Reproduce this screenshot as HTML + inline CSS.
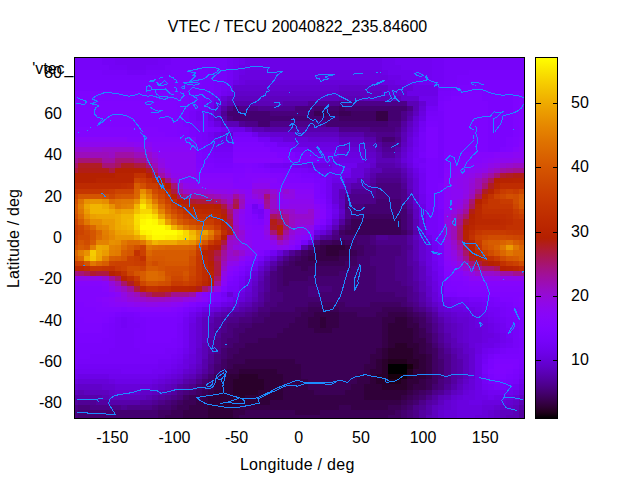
<!DOCTYPE html>
<html><head><meta charset="utf-8"><title>VTEC</title>
<style>html,body{margin:0;padding:0;background:#fff}svg{display:block}text{font-family:"Liberation Sans",sans-serif;font-size:16px;fill:#000}</style>
</head><body>
<svg width="640" height="480" viewBox="0 0 640 480">
<defs><linearGradient id="cb" x1="0" y1="0" x2="0" y2="1"><stop offset="0.0000" stop-color="#ffff00"/><stop offset="0.0179" stop-color="#fdf200"/><stop offset="0.0357" stop-color="#fae500"/><stop offset="0.0536" stop-color="#f8d800"/><stop offset="0.0714" stop-color="#f6cc00"/><stop offset="0.0893" stop-color="#f3c100"/><stop offset="0.1071" stop-color="#f1b600"/><stop offset="0.1250" stop-color="#efab00"/><stop offset="0.1429" stop-color="#eca100"/><stop offset="0.1607" stop-color="#ea9700"/><stop offset="0.1786" stop-color="#e78d00"/><stop offset="0.1964" stop-color="#e58400"/><stop offset="0.2143" stop-color="#e27c00"/><stop offset="0.2321" stop-color="#df7300"/><stop offset="0.2500" stop-color="#dd6c00"/><stop offset="0.2679" stop-color="#da6400"/><stop offset="0.2857" stop-color="#d85d00"/><stop offset="0.3036" stop-color="#d55600"/><stop offset="0.3214" stop-color="#d25000"/><stop offset="0.3393" stop-color="#cf4a00"/><stop offset="0.3571" stop-color="#cc4400"/><stop offset="0.3750" stop-color="#ca3e00"/><stop offset="0.3929" stop-color="#c73900"/><stop offset="0.4107" stop-color="#c43400"/><stop offset="0.4286" stop-color="#c13000"/><stop offset="0.4464" stop-color="#be2b00"/><stop offset="0.4643" stop-color="#bb2700"/><stop offset="0.4821" stop-color="#b82300"/><stop offset="0.5000" stop-color="#b42000"/><stop offset="0.5179" stop-color="#b11d1d"/><stop offset="0.5357" stop-color="#ae1a39"/><stop offset="0.5536" stop-color="#aa1754"/><stop offset="0.5714" stop-color="#a7146f"/><stop offset="0.5893" stop-color="#a31288"/><stop offset="0.6071" stop-color="#a00f9f"/><stop offset="0.6250" stop-color="#9c0db4"/><stop offset="0.6429" stop-color="#980cc7"/><stop offset="0.6607" stop-color="#950ad8"/><stop offset="0.6786" stop-color="#9108e6"/><stop offset="0.6964" stop-color="#8c07f1"/><stop offset="0.7143" stop-color="#8806f9"/><stop offset="0.7321" stop-color="#8405fd"/><stop offset="0.7500" stop-color="#8004ff"/><stop offset="0.7679" stop-color="#7b03fd"/><stop offset="0.7857" stop-color="#7603f9"/><stop offset="0.8036" stop-color="#7102f1"/><stop offset="0.8214" stop-color="#6c01e6"/><stop offset="0.8393" stop-color="#6601d8"/><stop offset="0.8571" stop-color="#6001c7"/><stop offset="0.8750" stop-color="#5a00b4"/><stop offset="0.8929" stop-color="#53009f"/><stop offset="0.9107" stop-color="#4c0088"/><stop offset="0.9286" stop-color="#44006f"/><stop offset="0.9464" stop-color="#3b0054"/><stop offset="0.9643" stop-color="#300039"/><stop offset="0.9821" stop-color="#22001d"/><stop offset="1.0000" stop-color="#000000"/></linearGradient>
<clipPath id="pc"><rect x="74" y="57" width="451" height="362"/></clipPath></defs>
<rect width="640" height="480" fill="#fff"/>
<text x="73.5" y="73.5" text-anchor="end">'vtec_</text>
<text x="297.50" y="31.50" text-anchor="middle">VTEC / TECU 20040822_235.84600</text>
<text x="297.30" y="470.00" text-anchor="middle" letter-spacing="0.3">Longitude / deg</text>
<text transform="translate(18.5,238.5) rotate(-90)" text-anchor="middle" letter-spacing="0.15">Latitude / deg</text>
<text x="62.00" y="408.03" text-anchor="end">-80</text>
<text x="62.00" y="366.77" text-anchor="end">-60</text>
<text x="62.00" y="325.51" text-anchor="end">-40</text>
<text x="62.00" y="284.26" text-anchor="end">-20</text>
<text x="62.00" y="243.00" text-anchor="end">0</text>
<text x="62.00" y="201.74" text-anchor="end">20</text>
<text x="62.00" y="160.49" text-anchor="end">40</text>
<text x="62.00" y="119.23" text-anchor="end">60</text>
<text x="62.00" y="77.97" text-anchor="end">80</text>
<text x="112.29" y="442.50" text-anchor="middle">-150</text>
<text x="174.45" y="442.50" text-anchor="middle">-100</text>
<text x="236.60" y="442.50" text-anchor="middle">-50</text>
<text x="298.76" y="442.50" text-anchor="middle">0</text>
<text x="360.91" y="442.50" text-anchor="middle">50</text>
<text x="423.07" y="442.50" text-anchor="middle">100</text>
<text x="485.22" y="442.50" text-anchor="middle">150</text>
<text x="571.00" y="365.48" text-anchor="start">10</text>
<text x="571.00" y="301.02" text-anchor="start">20</text>
<text x="571.00" y="236.55" text-anchor="start">30</text>
<text x="571.00" y="172.09" text-anchor="start">40</text>
<text x="571.00" y="107.62" text-anchor="start">50</text>
<g shape-rendering="crispEdges"><path fill="#000000" d="M388 364h19v5h-19zM388 369h19v5h-19z"/><path fill="#18000e" d="M407 364h6v5h-6zM388 374h19v5h-19z"/><path fill="#22001d" d="M388 359h19v5h-19zM407 369h6v5h-6zM388 379h13v5h-13z"/><path fill="#2a002b" d="M395 343h12v5h-12zM388 348h25v6h-25zM388 354h25v5h-25zM382 359h6v5h-6zM407 359h12v5h-12zM382 364h6v5h-6zM413 364h6v5h-6zM382 369h6v5h-6zM239 374h19v5h-19zM376 374h12v5h-12zM407 374h6v5h-6zM233 379h31v5h-31zM376 379h12v5h-12zM401 379h6v5h-6zM233 384h31v6h-31zM382 384h25v6h-25zM233 390h25v5h-25zM239 395h6v5h-6z"/><path fill="#300039" d="M326 245h19v5h-19zM326 250h13v6h-13zM320 317h6v6h-6zM395 317h12v6h-12zM320 323h6v5h-6zM388 323h19v5h-19zM388 328h25v5h-25zM388 333h25v5h-25zM388 338h25v5h-25zM388 343h7v5h-7zM407 343h12v5h-12zM382 348h6v6h-6zM413 348h6v6h-6zM382 354h6v5h-6zM413 354h13v5h-13zM376 359h6v5h-6zM419 359h7v5h-7zM376 364h6v5h-6zM419 364h7v5h-7zM239 369h38v5h-38zM370 369h12v5h-12zM413 369h13v5h-13zM227 374h12v5h-12zM258 374h25v5h-25zM370 374h6v5h-6zM413 374h13v5h-13zM221 379h12v5h-12zM264 379h19v5h-19zM370 379h6v5h-6zM407 379h12v5h-12zM221 384h12v6h-12zM264 384h19v6h-19zM364 384h18v6h-18zM407 384h6v6h-6zM214 390h19v5h-19zM258 390h25v5h-25zM364 390h43v5h-43zM208 395h31v5h-31zM245 395h38v5h-38zM364 395h37v5h-37zM208 400h62v5h-62zM208 405h31v5h-31zM208 410h25v5h-25zM208 415h25v4h-25z"/><path fill="#360047" d="M376 111h12v5h-12zM376 116h12v5h-12zM320 245h6v5h-6zM345 245h6v5h-6zM314 250h12v6h-12zM339 250h12v6h-12zM308 256h31v5h-31zM314 312h25v5h-25zM388 312h19v5h-19zM308 317h12v6h-12zM326 317h13v6h-13zM382 317h13v6h-13zM407 317h6v6h-6zM308 323h12v5h-12zM326 323h13v5h-13zM382 323h6v5h-6zM407 323h12v5h-12zM314 328h18v5h-18zM382 328h6v5h-6zM413 328h6v5h-6zM382 333h6v5h-6zM413 333h6v5h-6zM382 338h6v5h-6zM413 338h13v5h-13zM382 343h6v5h-6zM419 343h7v5h-7zM376 348h6v6h-6zM419 348h7v6h-7zM370 354h12v5h-12zM426 354h6v5h-6zM245 359h50v5h-50zM370 359h6v5h-6zM426 359h6v5h-6zM233 364h68v5h-68zM364 364h12v5h-12zM426 364h6v5h-6zM227 369h12v5h-12zM277 369h24v5h-24zM364 369h6v5h-6zM426 369h6v5h-6zM221 374h6v5h-6zM283 374h18v5h-18zM357 374h13v5h-13zM426 374h6v5h-6zM214 379h7v5h-7zM283 379h25v5h-25zM357 379h13v5h-13zM419 379h7v5h-7zM214 384h7v6h-7zM283 384h25v6h-25zM351 384h13v6h-13zM413 384h13v6h-13zM208 390h6v5h-6zM283 390h31v5h-31zM345 390h19v5h-19zM407 390h6v5h-6zM202 395h6v5h-6zM283 395h81v5h-81zM401 395h6v5h-6zM196 400h12v5h-12zM270 400h131v5h-131zM189 405h19v5h-19zM239 405h100v5h-100zM351 405h37v5h-37zM183 410h25v5h-25zM233 410h12v5h-12zM295 410h25v5h-25zM183 415h25v4h-25zM233 415h6v4h-6z"/><path fill="#3b0055" d="M314 111h12v5h-12zM339 111h12v5h-12zM351 219h50v6h-50zM351 225h50v5h-50zM345 230h56v5h-56zM332 240h13v5h-13zM314 245h6v5h-6zM308 250h6v6h-6zM351 250h6v6h-6zM301 256h7v5h-7zM339 256h12v5h-12zM295 261h50v5h-50zM301 266h7v5h-7zM308 307h31v5h-31zM382 307h25v5h-25zM301 312h13v5h-13zM339 312h18v5h-18zM376 312h12v5h-12zM407 312h6v5h-6zM295 317h13v6h-13zM339 317h43v6h-43zM413 317h6v6h-6zM289 323h19v5h-19zM339 323h43v5h-43zM283 328h31v5h-31zM332 328h50v5h-50zM419 328h7v5h-7zM277 333h105v5h-105zM419 333h7v5h-7zM258 338h124v5h-124zM245 343h137v5h-137zM426 343h6v5h-6zM239 348h137v6h-137zM426 348h6v6h-6zM233 354h137v5h-137zM227 359h18v5h-18zM295 359h75v5h-75zM227 364h6v5h-6zM301 364h63v5h-63zM221 369h6v5h-6zM301 369h63v5h-63zM214 374h7v5h-7zM301 374h56v5h-56zM308 379h49v5h-49zM426 379h6v5h-6zM208 384h6v6h-6zM308 384h43v6h-43zM426 384h6v6h-6zM202 390h6v5h-6zM314 390h31v5h-31zM413 390h6v5h-6zM189 395h13v5h-13zM407 395h6v5h-6zM183 400h13v5h-13zM401 400h6v5h-6zM177 405h12v5h-12zM339 405h12v5h-12zM388 405h13v5h-13zM171 410h12v5h-12zM245 410h50v5h-50zM320 410h75v5h-75zM165 415h18v4h-18zM239 415h149v4h-149z"/><path fill="#400062" d="M339 106h6v5h-6zM326 111h13v5h-13zM351 111h25v5h-25zM339 116h37v5h-37zM364 214h37v5h-37zM345 225h6v5h-6zM339 230h6v5h-6zM401 230h6v5h-6zM320 240h12v5h-12zM345 240h12v5h-12zM351 245h13v5h-13zM301 250h7v6h-7zM357 250h7v6h-7zM295 256h6v5h-6zM351 256h6v5h-6zM289 261h6v5h-6zM345 261h12v5h-12zM283 266h18v5h-18zM308 266h43v5h-43zM283 271h56v5h-56zM283 276h25v5h-25zM283 281h6v5h-6zM308 302h37v5h-37zM370 302h31v5h-31zM295 307h13v5h-13zM339 307h43v5h-43zM407 307h6v5h-6zM270 312h31v5h-31zM357 312h19v5h-19zM413 312h6v5h-6zM264 317h31v6h-31zM419 317h7v6h-7zM252 323h37v5h-37zM419 323h7v5h-7zM245 328h38v5h-38zM239 333h38v5h-38zM426 333h6v5h-6zM239 338h19v5h-19zM426 338h6v5h-6zM233 343h12v5h-12zM227 348h12v6h-12zM432 348h6v6h-6zM227 354h6v5h-6zM432 354h6v5h-6zM221 359h6v5h-6zM432 359h6v5h-6zM221 364h6v5h-6zM432 364h6v5h-6zM432 369h6v5h-6zM432 374h6v5h-6zM208 379h6v5h-6zM432 379h6v5h-6zM202 384h6v6h-6zM196 390h6v5h-6zM419 390h7v5h-7zM183 395h6v5h-6zM413 395h6v5h-6zM177 400h6v5h-6zM407 400h6v5h-6zM171 405h6v5h-6zM401 405h6v5h-6zM158 410h13v5h-13zM395 410h6v5h-6zM158 415h7v4h-7zM388 415h13v4h-13z"/><path fill="#440070" d="M233 106h6v5h-6zM314 106h25v5h-25zM345 106h62v5h-62zM227 111h43v5h-43zM308 111h6v5h-6zM388 111h13v5h-13zM233 116h106v5h-106zM388 116h13v5h-13zM258 121h12v6h-12zM326 121h62v6h-62zM382 137h13v5h-13zM376 199h25v5h-25zM364 204h37v5h-37zM351 209h56v5h-56zM351 214h13v5h-13zM401 214h6v5h-6zM345 219h6v6h-6zM401 219h6v6h-6zM401 225h6v5h-6zM339 235h31v5h-31zM357 240h13v5h-13zM364 245h12v5h-12zM364 250h12v6h-12zM289 256h6v5h-6zM357 256h13v5h-13zM283 261h6v5h-6zM357 261h13v5h-13zM277 266h6v5h-6zM351 266h25v5h-25zM277 271h6v5h-6zM339 271h37v5h-37zM277 276h6v5h-6zM308 276h68v5h-68zM277 281h6v5h-6zM289 281h87v5h-87zM277 286h31v6h-31zM332 286h44v6h-44zM283 292h25v5h-25zM320 292h75v5h-75zM283 297h124v5h-124zM277 302h31v5h-31zM345 302h25v5h-25zM401 302h6v5h-6zM270 307h25v5h-25zM258 312h12v5h-12zM419 312h7v5h-7zM252 317h12v6h-12zM239 323h13v5h-13zM426 323h6v5h-6zM233 328h12v5h-12zM426 328h6v5h-6zM233 333h6v5h-6zM227 338h12v5h-12zM227 343h6v5h-6zM432 343h6v5h-6zM221 348h6v6h-6zM221 354h6v5h-6zM438 359h6v5h-6zM214 364h7v5h-7zM438 364h6v5h-6zM214 369h7v5h-7zM438 369h6v5h-6zM208 374h6v5h-6zM438 374h6v5h-6zM202 379h6v5h-6zM196 384h6v6h-6zM432 384h6v6h-6zM189 390h7v5h-7zM426 390h6v5h-6zM419 395h7v5h-7zM171 400h6v5h-6zM413 400h6v5h-6zM158 405h13v5h-13zM407 405h6v5h-6zM78 410h80v5h-80zM401 410h6v5h-6zM78 415h80v4h-80zM401 415h6v4h-6z"/><path fill="#49007c" d="M295 106h19v5h-19zM270 111h38v5h-38zM227 116h6v5h-6zM388 121h13v6h-13zM370 127h25v5h-25zM376 183h25v6h-25zM376 189h25v5h-25zM376 194h25v5h-25zM345 204h19v5h-19zM401 204h6v5h-6zM339 225h6v5h-6zM407 230h6v5h-6zM332 235h7v5h-7zM370 235h6v5h-6zM314 240h6v5h-6zM370 240h6v5h-6zM308 245h6v5h-6zM376 245h25v5h-25zM295 250h6v6h-6zM376 250h25v6h-25zM370 256h25v5h-25zM370 261h25v5h-25zM376 266h19v5h-19zM270 271h7v5h-7zM376 271h19v5h-19zM270 276h7v5h-7zM376 276h19v5h-19zM270 281h7v5h-7zM376 281h25v5h-25zM270 286h7v6h-7zM308 286h24v6h-24zM376 286h31v6h-31zM270 292h13v5h-13zM308 292h12v5h-12zM395 292h12v5h-12zM270 297h13v5h-13zM264 302h13v5h-13zM407 302h6v5h-6zM258 307h12v5h-12zM413 307h6v5h-6zM252 312h6v5h-6zM239 317h13v6h-13zM426 317h6v6h-6zM227 323h12v5h-12zM227 328h6v5h-6zM221 333h12v5h-12zM432 333h6v5h-6zM221 338h6v5h-6zM432 338h6v5h-6zM221 343h6v5h-6zM438 348h6v6h-6zM214 354h7v5h-7zM438 354h6v5h-6zM214 359h7v5h-7zM438 379h6v5h-6zM438 384h6v6h-6zM183 390h6v5h-6zM177 395h6v5h-6zM165 400h6v5h-6zM78 405h12v5h-12zM152 405h6v5h-6zM74 410h4v5h-4zM407 410h6v5h-6zM74 415h4v4h-4zM407 415h6v4h-6z"/><path fill="#4d0089" d="M339 101h68v5h-68zM227 106h6v5h-6zM239 106h19v5h-19zM407 106h6v5h-6zM401 111h6v5h-6zM401 116h6v5h-6zM245 121h13v6h-13zM270 121h56v6h-56zM339 127h31v5h-31zM395 127h6v5h-6zM376 132h19v5h-19zM376 137h6v5h-6zM395 137h6v5h-6zM382 142h13v5h-13zM376 178h25v5h-25zM401 189h6v5h-6zM345 194h31v5h-31zM401 194h6v5h-6zM345 199h31v5h-31zM401 199h6v5h-6zM345 209h6v5h-6zM345 214h6v5h-6zM407 214h6v5h-6zM407 219h6v6h-6zM407 225h6v5h-6zM332 230h7v5h-7zM388 235h19v5h-19zM376 240h31v5h-31zM401 245h6v5h-6zM401 250h6v6h-6zM283 256h6v5h-6zM395 256h12v5h-12zM277 261h6v5h-6zM395 261h12v5h-12zM395 266h12v5h-12zM395 271h12v5h-12zM395 276h12v5h-12zM401 281h6v5h-6zM407 286h6v6h-6zM264 292h6v5h-6zM407 292h6v5h-6zM264 297h6v5h-6zM407 297h6v5h-6zM413 302h6v5h-6zM419 307h7v5h-7zM245 312h7v5h-7zM426 312h6v5h-6zM227 317h12v6h-12zM221 323h6v5h-6zM432 323h6v5h-6zM221 328h6v5h-6zM432 328h6v5h-6zM214 338h7v5h-7zM214 343h7v5h-7zM438 343h6v5h-6zM214 348h7v6h-7zM444 354h7v5h-7zM444 359h7v5h-7zM208 364h6v5h-6zM444 364h7v5h-7zM208 369h6v5h-6zM444 369h7v5h-7zM202 374h6v5h-6zM444 374h7v5h-7zM196 379h6v5h-6zM444 379h7v5h-7zM189 384h7v6h-7zM177 390h6v5h-6zM432 390h6v5h-6zM171 395h6v5h-6zM426 395h6v5h-6zM158 400h7v5h-7zM419 400h7v5h-7zM74 405h4v5h-4zM90 405h31v5h-31zM127 405h25v5h-25zM413 405h6v5h-6zM413 410h6v5h-6zM413 415h6v4h-6z"/><path fill="#500095" d="M308 101h31v5h-31zM258 106h37v5h-37zM221 111h6v5h-6zM239 121h6v6h-6zM364 132h12v5h-12zM395 132h6v5h-6zM395 142h6v5h-6zM382 147h13v5h-13zM376 173h25v5h-25zM370 183h6v6h-6zM401 183h6v6h-6zM351 189h25v5h-25zM407 209h6v5h-6zM326 235h6v5h-6zM376 235h12v5h-12zM407 245h6v5h-6zM289 250h6v6h-6zM270 266h7v5h-7zM407 266h6v5h-6zM407 271h6v5h-6zM264 276h6v5h-6zM407 276h6v5h-6zM264 281h6v5h-6zM407 281h6v5h-6zM264 286h6v6h-6zM413 292h6v5h-6zM413 297h6v5h-6zM258 302h6v5h-6zM252 307h6v5h-6zM233 312h12v5h-12zM221 317h6v6h-6zM432 317h6v6h-6zM214 328h7v5h-7zM214 333h7v5h-7zM438 333h6v5h-6zM438 338h6v5h-6zM444 348h7v6h-7zM208 354h6v5h-6zM208 359h6v5h-6zM183 384h6v6h-6zM444 384h7v6h-7zM438 390h6v5h-6zM165 395h6v5h-6zM78 400h18v5h-18zM152 400h6v5h-6zM121 405h6v5h-6zM419 405h7v5h-7z"/><path fill="#5400a0" d="M407 111h6v5h-6zM221 116h6v5h-6zM401 121h6v6h-6zM376 142h6v5h-6zM382 152h13v6h-13zM382 168h19v5h-19zM370 178h6v5h-6zM401 178h6v5h-6zM407 204h6v5h-6zM339 219h6v6h-6zM320 235h6v5h-6zM407 235h6v5h-6zM407 240h6v5h-6zM407 250h6v6h-6zM407 256h6v5h-6zM407 261h6v5h-6zM264 271h6v5h-6zM413 281h6v5h-6zM413 286h6v6h-6zM258 292h6v5h-6zM258 297h6v5h-6zM252 302h6v5h-6zM419 302h7v5h-7zM245 307h7v5h-7zM426 307h6v5h-6zM227 312h6v5h-6zM432 312h6v5h-6zM214 317h7v6h-7zM214 323h7v5h-7zM438 323h6v5h-6zM438 328h6v5h-6zM208 338h6v5h-6zM208 343h6v5h-6zM444 343h7v5h-7zM208 348h6v6h-6zM451 354h6v5h-6zM451 359h6v5h-6zM451 364h6v5h-6zM202 369h6v5h-6zM451 369h6v5h-6zM196 374h6v5h-6zM451 374h6v5h-6zM189 379h7v5h-7zM451 379h6v5h-6zM177 384h6v6h-6zM171 390h6v5h-6zM158 395h7v5h-7zM432 395h6v5h-6zM74 400h4v5h-4zM96 400h13v5h-13zM140 400h12v5h-12zM426 400h6v5h-6zM419 410h7v5h-7zM519 410h6v5h-6zM419 415h7v4h-7zM519 415h6v4h-6z"/><path fill="#5700ab" d="M233 101h19v5h-19zM283 101h25v5h-25zM221 106h6v5h-6zM407 116h6v5h-6zM264 127h75v5h-75zM401 127h6v5h-6zM339 132h25v5h-25zM364 137h12v5h-12zM376 147h6v5h-6zM395 147h6v5h-6zM376 163h19v5h-19zM370 173h6v5h-6zM401 173h6v5h-6zM351 183h19v6h-19zM407 194h6v5h-6zM407 199h6v5h-6zM413 230h6v5h-6zM301 245h7v5h-7zM277 256h6v5h-6zM270 261h7v5h-7zM413 261h6v5h-6zM413 266h6v5h-6zM413 271h6v5h-6zM413 276h6v5h-6zM258 281h6v5h-6zM258 286h6v6h-6zM419 292h7v5h-7zM419 297h7v5h-7zM239 307h6v5h-6zM221 312h6v5h-6zM438 317h6v6h-6zM208 323h6v5h-6zM208 328h6v5h-6zM208 333h6v5h-6zM444 333h7v5h-7zM444 338h7v5h-7zM451 348h6v6h-6zM202 359h6v5h-6zM457 359h6v5h-6zM202 364h6v5h-6zM457 364h6v5h-6zM457 369h6v5h-6zM457 374h6v5h-6zM183 379h6v5h-6zM451 384h6v6h-6zM165 390h6v5h-6zM444 390h7v5h-7zM74 395h28v5h-28zM152 395h6v5h-6zM109 400h31v5h-31zM432 400h6v5h-6zM426 405h6v5h-6zM519 405h6v5h-6zM426 410h6v5h-6z"/><path fill="#5b01b6" d="M339 96h25v5h-25zM227 101h6v5h-6zM252 101h31v5h-31zM407 101h12v5h-12zM413 106h6v5h-6zM227 121h12v6h-12zM252 127h12v5h-12zM401 132h6v5h-6zM401 137h6v5h-6zM364 142h12v5h-12zM376 152h6v6h-6zM395 152h6v6h-6zM376 158h19v5h-19zM395 163h6v5h-6zM370 168h12v5h-12zM401 168h6v5h-6zM357 178h13v5h-13zM339 189h12v5h-12zM407 189h6v5h-6zM339 194h6v5h-6zM413 219h6v6h-6zM332 225h7v5h-7zM413 225h6v5h-6zM413 240h6v5h-6zM413 245h6v5h-6zM283 250h6v6h-6zM413 250h6v6h-6zM413 256h6v5h-6zM264 266h6v5h-6zM258 276h6v5h-6zM419 281h7v5h-7zM419 286h7v6h-7zM252 297h6v5h-6zM245 302h7v5h-7zM426 302h6v5h-6zM233 307h6v5h-6zM432 307h6v5h-6zM214 312h7v5h-7zM208 317h6v6h-6zM444 323h7v5h-7zM444 328h7v5h-7zM451 338h6v5h-6zM202 343h6v5h-6zM451 343h6v5h-6zM202 348h6v6h-6zM457 348h6v6h-6zM202 354h6v5h-6zM457 354h6v5h-6zM196 369h6v5h-6zM189 374h7v5h-7zM457 379h6v5h-6zM171 384h6v6h-6zM78 390h6v5h-6zM158 390h7v5h-7zM102 395h7v5h-7zM146 395h6v5h-6zM438 395h6v5h-6zM519 400h6v5h-6zM513 410h6v5h-6zM426 415h6v4h-6zM506 415h13v4h-13z"/><path fill="#5e01bf" d="M339 91h43v5h-43zM233 96h106v5h-106zM364 96h37v5h-37zM413 111h6v5h-6zM407 121h6v6h-6zM295 132h44v5h-44zM339 137h25v5h-25zM401 142h6v5h-6zM364 147h12v5h-12zM395 158h6v5h-6zM364 173h6v5h-6zM407 178h6v5h-6zM345 183h6v6h-6zM407 183h6v6h-6zM339 199h6v5h-6zM339 204h6v5h-6zM413 209h6v5h-6zM339 214h6v5h-6zM413 214h6v5h-6zM326 230h6v5h-6zM314 235h6v5h-6zM413 235h6v5h-6zM419 266h7v5h-7zM258 271h6v5h-6zM419 271h7v5h-7zM419 276h7v5h-7zM252 286h6v6h-6zM252 292h6v5h-6zM426 297h6v5h-6zM239 302h6v5h-6zM227 307h6v5h-6zM438 312h6v5h-6zM202 317h6v6h-6zM444 317h7v6h-7zM202 323h6v5h-6zM451 323h6v5h-6zM202 328h6v5h-6zM451 328h6v5h-6zM202 333h6v5h-6zM451 333h6v5h-6zM202 338h6v5h-6zM457 343h6v5h-6zM463 354h6v5h-6zM463 359h6v5h-6zM196 364h6v5h-6zM463 364h6v5h-6zM463 369h6v5h-6zM183 374h6v5h-6zM463 374h6v5h-6zM177 379h6v5h-6zM165 384h6v6h-6zM457 384h6v6h-6zM74 390h4v5h-4zM84 390h25v5h-25zM152 390h6v5h-6zM451 390h6v5h-6zM109 395h37v5h-37zM444 395h7v5h-7zM438 400h6v5h-6zM432 405h6v5h-6zM513 405h6v5h-6zM432 410h6v5h-6zM500 410h13v5h-13zM432 415h6v4h-6zM500 415h6v4h-6z"/><path fill="#6101c9" d="M339 85h49v6h-49zM233 91h106v5h-106zM227 96h6v5h-6zM221 101h6v5h-6zM214 111h7v5h-7zM214 116h7v5h-7zM221 121h6v6h-6zM407 127h6v5h-6zM339 142h25v5h-25zM401 147h6v5h-6zM364 152h12v6h-12zM370 163h6v5h-6zM401 163h6v5h-6zM364 168h6v5h-6zM407 173h6v5h-6zM413 204h6v5h-6zM339 209h6v5h-6zM264 261h6v5h-6zM419 261h7v5h-7zM252 281h6v5h-6zM426 286h6v6h-6zM426 292h6v5h-6zM245 297h7v5h-7zM432 302h6v5h-6zM221 307h6v5h-6zM208 312h6v5h-6zM444 312h7v5h-7zM451 317h6v6h-6zM457 323h6v5h-6zM457 328h6v5h-6zM457 333h6v5h-6zM457 338h6v5h-6zM463 343h6v5h-6zM196 348h6v6h-6zM463 348h6v6h-6zM196 354h6v5h-6zM196 359h6v5h-6zM189 369h7v5h-7zM171 379h6v5h-6zM463 379h6v5h-6zM78 384h24v6h-24zM158 384h7v6h-7zM109 390h6v5h-6zM140 390h12v5h-12zM457 390h6v5h-6zM519 395h6v5h-6zM513 400h6v5h-6zM438 405h6v5h-6zM500 405h13v5h-13zM494 410h6v5h-6zM494 415h6v4h-6z"/><path fill="#6401d1" d="M233 85h106v6h-106zM382 91h25v5h-25zM401 96h18v5h-18zM419 101h7v5h-7zM214 106h7v5h-7zM413 116h6v5h-6zM245 127h7v5h-7zM270 132h25v5h-25zM407 132h6v5h-6zM308 137h31v5h-31zM401 152h6v6h-6zM364 158h12v5h-12zM407 168h6v5h-6zM345 178h12v5h-12zM413 194h6v5h-6zM413 199h6v5h-6zM332 219h7v6h-7zM419 240h7v5h-7zM419 245h7v5h-7zM419 250h7v6h-7zM270 256h7v5h-7zM419 256h7v5h-7zM258 266h6v5h-6zM252 276h6v5h-6zM426 276h6v5h-6zM426 281h6v5h-6zM245 292h7v5h-7zM233 302h6v5h-6zM438 307h6v5h-6zM202 312h6v5h-6zM451 312h6v5h-6zM196 317h6v6h-6zM457 317h12v6h-12zM196 323h6v5h-6zM463 323h6v5h-6zM196 328h6v5h-6zM463 328h6v5h-6zM196 333h6v5h-6zM463 333h6v5h-6zM196 338h6v5h-6zM463 338h6v5h-6zM196 343h6v5h-6zM469 348h6v6h-6zM469 354h6v5h-6zM469 359h6v5h-6zM189 364h7v5h-7zM469 364h6v5h-6zM183 369h6v5h-6zM469 369h6v5h-6zM177 374h6v5h-6zM469 374h6v5h-6zM165 379h6v5h-6zM74 384h4v6h-4zM102 384h13v6h-13zM152 384h6v6h-6zM463 384h6v6h-6zM115 390h25v5h-25zM451 395h6v5h-6zM444 400h7v5h-7zM506 400h7v5h-7zM444 405h7v5h-7zM494 405h6v5h-6zM438 410h6v5h-6zM488 410h6v5h-6zM438 415h6v4h-6zM488 415h6v4h-6z"/><path fill="#6701d9" d="M245 80h137v5h-137zM388 85h25v6h-25zM221 96h6v5h-6zM419 106h7v5h-7zM413 121h6v6h-6zM227 132h6v5h-6zM258 132h12v5h-12zM283 137h25v5h-25zM407 137h6v5h-6zM407 142h6v5h-6zM339 147h25v5h-25zM401 158h6v5h-6zM357 163h13v5h-13zM351 168h13v5h-13zM351 173h13v5h-13zM413 178h6v5h-6zM332 183h13v6h-13zM413 183h6v6h-6zM332 189h7v5h-7zM413 189h6v5h-6zM332 194h7v5h-7zM332 199h7v5h-7zM320 230h6v5h-6zM419 230h7v5h-7zM419 235h7v5h-7zM308 240h6v5h-6zM277 250h6v6h-6zM426 266h6v5h-6zM252 271h6v5h-6zM426 271h6v5h-6zM245 286h7v6h-7zM227 292h6v5h-6zM432 292h6v5h-6zM239 297h6v5h-6zM432 297h6v5h-6zM438 302h6v5h-6zM214 307h7v5h-7zM444 307h7v5h-7zM457 312h12v5h-12zM469 317h6v6h-6zM469 323h6v5h-6zM469 328h13v5h-13zM469 333h13v5h-13zM469 338h13v5h-13zM469 343h6v5h-6zM189 354h7v5h-7zM189 359h7v5h-7zM171 374h6v5h-6zM78 379h31v5h-31zM158 379h7v5h-7zM469 379h6v5h-6zM115 384h37v6h-37zM469 384h6v6h-6zM463 390h6v5h-6zM519 390h6v5h-6zM457 395h6v5h-6zM513 395h6v5h-6zM451 400h6v5h-6zM500 400h6v5h-6zM451 405h6v5h-6zM482 405h12v5h-12zM444 410h13v5h-13zM482 410h6v5h-6zM444 415h13v4h-13zM475 415h13v4h-13z"/><path fill="#6a01e0" d="M245 70h137v5h-137zM239 75h149v5h-149zM239 80h6v5h-6zM382 80h13v5h-13zM214 101h7v5h-7zM419 111h7v5h-7zM214 121h7v6h-7zM413 127h6v5h-6zM221 132h6v5h-6zM295 142h44v5h-44zM407 147h6v5h-6zM339 152h25v6h-25zM320 163h12v5h-12zM407 163h6v5h-6zM413 173h6v5h-6zM419 219h7v6h-7zM326 225h6v5h-6zM419 225h7v5h-7zM426 245h6v5h-6zM426 250h6v6h-6zM426 256h6v5h-6zM426 261h6v5h-6zM245 281h7v5h-7zM432 281h6v5h-6zM432 286h6v6h-6zM239 292h6v5h-6zM227 302h6v5h-6zM208 307h6v5h-6zM451 307h12v5h-12zM196 312h6v5h-6zM469 312h6v5h-6zM475 317h7v6h-7zM189 323h7v5h-7zM475 323h13v5h-13zM189 328h7v5h-7zM482 328h6v5h-6zM189 333h7v5h-7zM482 333h12v5h-12zM189 338h7v5h-7zM482 338h6v5h-6zM189 343h7v5h-7zM475 343h7v5h-7zM189 348h7v6h-7zM475 348h7v6h-7zM183 359h6v5h-6zM183 364h6v5h-6zM177 369h6v5h-6zM165 374h6v5h-6zM74 379h4v5h-4zM109 379h6v5h-6zM152 379h6v5h-6zM469 390h6v5h-6zM463 395h12v5h-12zM506 395h7v5h-7zM457 400h12v5h-12zM482 400h18v5h-18zM457 405h25v5h-25zM457 410h25v5h-25zM457 415h18v4h-18z"/><path fill="#6c01e7" d="M245 57h137v3h-137zM245 60h137v5h-137zM239 65h143v5h-143zM239 70h6v5h-6zM382 70h6v5h-6zM388 75h13v5h-13zM233 80h6v5h-6zM395 80h12v5h-12zM413 85h25v6h-25zM407 91h31v5h-31zM208 111h6v5h-6zM208 116h6v5h-6zM419 116h7v5h-7zM233 127h12v5h-12zM214 132h7v5h-7zM413 132h6v5h-6zM221 137h12v5h-12zM270 137h13v5h-13zM308 147h31v5h-31zM407 152h6v6h-6zM332 158h32v5h-32zM407 158h6v5h-6zM308 163h12v5h-12zM413 168h6v5h-6zM332 178h13v5h-13zM332 204h7v5h-7zM419 204h7v5h-7zM419 209h7v5h-7zM332 214h7v5h-7zM419 214h7v5h-7zM314 230h6v5h-6zM426 240h6v5h-6zM264 256h6v5h-6zM258 261h6v5h-6zM432 271h6v5h-6zM245 276h7v5h-7zM432 276h6v5h-6zM233 297h6v5h-6zM438 297h6v5h-6zM221 302h6v5h-6zM444 302h7v5h-7zM202 307h6v5h-6zM463 307h12v5h-12zM475 312h7v5h-7zM189 317h7v6h-7zM482 317h6v6h-6zM488 323h6v5h-6zM488 328h6v5h-6zM494 333h6v5h-6zM488 338h12v5h-12zM482 343h12v5h-12zM183 354h6v5h-6zM475 354h7v5h-7zM475 359h7v5h-7zM177 364h6v5h-6zM475 364h7v5h-7zM171 369h6v5h-6zM475 369h7v5h-7zM78 374h31v5h-31zM158 374h7v5h-7zM475 374h7v5h-7zM115 379h37v5h-37zM475 379h7v5h-7zM475 384h7v6h-7zM519 384h6v6h-6zM475 390h7v5h-7zM513 390h6v5h-6zM475 395h13v5h-13zM494 395h12v5h-12zM469 400h13v5h-13z"/><path fill="#6f02ed" d="M239 57h6v3h-6zM382 57h13v3h-13zM239 60h6v5h-6zM382 60h13v5h-13zM382 65h19v5h-19zM233 70h6v5h-6zM388 70h25v5h-25zM233 75h6v5h-6zM401 75h18v5h-18zM407 80h12v5h-12zM227 91h6v5h-6zM214 96h7v5h-7zM419 96h19v5h-19zM426 101h12v5h-12zM208 106h6v5h-6zM227 127h6v5h-6zM252 132h6v5h-6zM214 137h7v5h-7zM413 137h6v5h-6zM413 142h6v5h-6zM295 163h13v5h-13zM332 163h25v5h-25zM320 168h12v5h-12zM332 173h19v5h-19zM419 194h7v5h-7zM419 199h7v5h-7zM332 209h7v5h-7zM426 235h6v5h-6zM432 261h6v5h-6zM252 266h6v5h-6zM432 266h6v5h-6zM239 286h6v6h-6zM438 286h6v6h-6zM438 292h6v5h-6zM444 297h7v5h-7zM451 302h18v5h-18zM475 307h7v5h-7zM189 312h7v5h-7zM482 312h6v5h-6zM488 317h6v6h-6zM494 323h6v5h-6zM494 328h6v5h-6zM500 333h6v5h-6zM500 338h6v5h-6zM494 343h6v5h-6zM183 348h6v6h-6zM482 348h6v6h-6zM177 359h6v5h-6zM171 364h6v5h-6zM165 369h6v5h-6zM74 374h4v5h-4zM109 374h49v5h-49zM519 379h6v5h-6zM482 390h6v5h-6zM506 390h7v5h-7zM488 395h6v5h-6z"/><path fill="#7202f2" d="M115 57h43v3h-43zM233 57h6v3h-6zM395 57h37v3h-37zM115 60h43v5h-43zM233 60h6v5h-6zM395 60h37v5h-37zM127 65h19v5h-19zM233 65h6v5h-6zM401 65h31v5h-31zM413 70h19v5h-19zM419 75h13v5h-13zM227 80h6v5h-6zM419 80h13v5h-13zM227 85h6v6h-6zM221 91h6v5h-6zM208 101h6v5h-6zM196 111h6v5h-6zM196 116h6v5h-6zM208 121h6v6h-6zM419 121h7v6h-7zM221 127h6v5h-6zM208 132h6v5h-6zM214 142h19v5h-19zM277 142h18v5h-18zM413 147h6v5h-6zM314 152h25v6h-25zM413 152h6v6h-6zM283 163h12v5h-12zM413 163h6v5h-6zM314 168h6v5h-6zM332 168h19v5h-19zM326 173h6v5h-6zM419 173h7v5h-7zM326 178h6v5h-6zM419 178h7v5h-7zM326 183h6v6h-6zM419 183h7v6h-7zM326 189h6v5h-6zM419 189h7v5h-7zM326 194h6v5h-6zM252 204h6v5h-6zM432 245h6v5h-6zM270 250h7v6h-7zM432 250h6v6h-6zM432 256h6v5h-6zM245 271h7v5h-7zM438 276h6v5h-6zM239 281h6v5h-6zM438 281h6v5h-6zM233 292h6v5h-6zM227 297h6v5h-6zM451 297h6v5h-6zM214 302h7v5h-7zM469 302h13v5h-13zM196 307h6v5h-6zM482 307h6v5h-6zM488 312h6v5h-6zM183 317h6v6h-6zM494 317h6v6h-6zM183 323h6v5h-6zM500 323h6v5h-6zM183 328h6v5h-6zM500 328h6v5h-6zM183 333h6v5h-6zM183 338h6v5h-6zM506 338h7v5h-7zM183 343h6v5h-6zM500 343h6v5h-6zM488 348h6v6h-6zM177 354h6v5h-6zM482 354h6v5h-6zM171 359h6v5h-6zM158 364h13v5h-13zM74 369h47v5h-47zM152 369h13v5h-13zM482 384h6v6h-6zM513 384h6v6h-6zM488 390h18v5h-18z"/><path fill="#7402f6" d="M102 57h13v3h-13zM158 57h13v3h-13zM227 57h6v3h-6zM432 57h12v3h-12zM102 60h13v5h-13zM158 60h13v5h-13zM227 60h6v5h-6zM432 60h12v5h-12zM109 65h18v5h-18zM146 65h19v5h-19zM227 65h6v5h-6zM432 65h12v5h-12zM127 70h19v5h-19zM227 70h6v5h-6zM432 70h12v5h-12zM227 75h6v5h-6zM432 75h12v5h-12zM432 80h12v5h-12zM221 85h6v6h-6zM208 96h6v5h-6zM426 106h12v5h-12zM419 127h7v5h-7zM208 137h6v5h-6zM258 137h12v5h-12zM208 142h6v5h-6zM214 147h19v5h-19zM289 147h19v5h-19zM320 158h12v5h-12zM413 158h13v5h-13zM270 163h13v5h-13zM308 168h6v5h-6zM419 168h7v5h-7zM320 173h6v5h-6zM326 199h6v5h-6zM258 209h6v5h-6zM326 219h6v6h-6zM320 225h6v5h-6zM432 240h6v5h-6zM252 261h6v5h-6zM438 266h6v5h-6zM438 271h6v5h-6zM239 276h6v5h-6zM221 292h6v5h-6zM457 297h12v5h-12zM208 302h6v5h-6zM482 302h6v5h-6zM488 307h12v5h-12zM494 312h6v5h-6zM121 317h6v6h-6zM500 317h6v6h-6zM121 323h6v5h-6zM506 328h7v5h-7zM506 333h7v5h-7zM506 343h7v5h-7zM177 348h6v6h-6zM494 348h6v6h-6zM171 354h6v5h-6zM158 359h13v5h-13zM482 359h6v5h-6zM78 364h80v5h-80zM121 369h31v5h-31zM482 374h6v5h-6zM519 374h6v5h-6zM482 379h6v5h-6zM488 384h6v6h-6zM506 384h7v6h-7z"/><path fill="#7703f9" d="M74 57h28v3h-28zM171 57h56v3h-56zM444 57h81v3h-81zM74 60h28v5h-28zM171 60h56v5h-56zM444 60h81v5h-81zM74 65h35v5h-35zM165 65h62v5h-62zM444 65h81v5h-81zM102 70h25v5h-25zM146 70h25v5h-25zM208 70h19v5h-19zM444 70h25v5h-25zM214 75h13v5h-13zM444 75h13v5h-13zM214 80h13v5h-13zM444 80h13v5h-13zM214 85h7v6h-7zM438 85h13v6h-13zM214 91h7v5h-7zM202 101h6v5h-6zM196 106h12v5h-12zM189 111h7v5h-7zM202 111h6v5h-6zM426 111h12v5h-12zM189 116h7v5h-7zM202 116h6v5h-6zM196 121h6v6h-6zM196 127h6v5h-6zM214 127h7v5h-7zM202 132h6v5h-6zM233 132h19v5h-19zM419 132h7v5h-7zM202 137h6v5h-6zM419 137h7v5h-7zM419 142h7v5h-7zM208 147h6v5h-6zM419 147h7v5h-7zM214 152h19v6h-19zM264 163h6v5h-6zM419 163h7v5h-7zM301 168h7v5h-7zM326 204h6v5h-6zM252 209h6v5h-6zM426 209h12v5h-12zM258 214h6v5h-6zM426 214h12v5h-12zM426 219h12v6h-12zM426 225h12v5h-12zM426 230h12v5h-12zM432 235h6v5h-6zM301 240h7v5h-7zM438 250h6v6h-6zM258 256h6v5h-6zM438 256h6v5h-6zM438 261h6v5h-6zM245 266h7v5h-7zM227 286h12v6h-12zM221 297h6v5h-6zM469 297h13v5h-13zM488 302h6v5h-6zM189 307h7v5h-7zM500 307h6v5h-6zM183 312h6v5h-6zM500 312h6v5h-6zM115 317h6v6h-6zM127 317h7v6h-7zM506 317h7v6h-7zM115 323h6v5h-6zM127 323h13v5h-13zM177 323h6v5h-6zM506 323h7v5h-7zM115 328h19v5h-19zM177 328h6v5h-6zM513 328h6v5h-6zM115 333h19v5h-19zM177 333h6v5h-6zM513 333h6v5h-6zM115 338h19v5h-19zM177 338h6v5h-6zM513 338h6v5h-6zM115 343h19v5h-19zM177 343h6v5h-6zM513 343h6v5h-6zM109 348h31v6h-31zM165 348h12v6h-12zM500 348h6v6h-6zM90 354h81v5h-81zM488 354h6v5h-6zM78 359h80v5h-80zM74 364h4v5h-4zM482 364h6v5h-6zM482 369h6v5h-6zM519 369h6v5h-6zM513 379h6v5h-6zM494 384h12v6h-12z"/><path fill="#7903fc" d="M74 70h28v5h-28zM171 70h37v5h-37zM469 70h56v5h-56zM74 75h140v5h-140zM457 75h68v5h-68zM202 80h12v5h-12zM457 80h12v5h-12zM202 85h12v6h-12zM451 85h6v6h-6zM202 91h12v5h-12zM438 91h13v5h-13zM202 96h6v5h-6zM438 96h6v5h-6zM196 101h6v5h-6zM189 106h7v5h-7zM438 111h6v5h-6zM426 116h18v5h-18zM189 121h7v6h-7zM202 121h6v6h-6zM438 121h6v6h-6zM208 127h6v5h-6zM438 127h6v5h-6zM196 132h6v5h-6zM438 132h6v5h-6zM196 137h6v5h-6zM438 137h6v5h-6zM202 142h6v5h-6zM264 142h13v5h-13zM438 142h6v5h-6zM202 147h6v5h-6zM438 147h6v5h-6zM208 152h6v6h-6zM295 152h19v6h-19zM419 152h7v6h-7zM438 152h6v6h-6zM214 158h19v5h-19zM438 158h6v5h-6zM438 163h6v5h-6zM289 168h12v5h-12zM438 168h6v5h-6zM314 173h6v5h-6zM438 173h6v5h-6zM320 178h6v5h-6zM320 183h6v6h-6zM320 189h6v5h-6zM426 194h12v5h-12zM426 199h12v5h-12zM426 204h12v5h-12zM326 209h6v5h-6zM326 214h6v5h-6zM438 245h6v5h-6zM264 250h6v6h-6zM239 271h6v5h-6zM233 281h6v5h-6zM482 297h12v5h-12zM202 302h6v5h-6zM494 302h12v5h-12zM506 307h7v5h-7zM121 312h13v5h-13zM506 312h7v5h-7zM134 317h12v6h-12zM177 317h6v6h-6zM513 317h6v6h-6zM109 323h6v5h-6zM140 323h6v5h-6zM513 323h6v5h-6zM109 328h6v5h-6zM134 328h12v5h-12zM109 333h6v5h-6zM134 333h12v5h-12zM102 338h13v5h-13zM134 338h12v5h-12zM171 338h6v5h-6zM519 338h6v5h-6zM78 343h37v5h-37zM134 343h43v5h-43zM519 343h6v5h-6zM74 348h35v6h-35zM140 348h25v6h-25zM506 348h13v6h-13zM74 354h16v5h-16zM74 359h4v5h-4zM519 364h6v5h-6zM513 374h6v5h-6zM488 379h6v5h-6zM506 379h7v5h-7z"/><path fill="#7b03fe" d="M74 80h128v5h-128zM469 80h56v5h-56zM74 85h128v6h-128zM457 85h68v6h-68zM189 91h13v5h-13zM451 91h12v5h-12zM482 91h31v5h-31zM189 96h13v5h-13zM444 96h7v5h-7zM482 96h31v5h-31zM189 101h7v5h-7zM438 101h6v5h-6zM488 101h25v5h-25zM183 106h6v5h-6zM438 106h6v5h-6zM488 106h25v5h-25zM183 111h6v5h-6zM488 111h25v5h-25zM183 116h6v5h-6zM488 116h25v5h-25zM183 121h6v6h-6zM426 121h12v6h-12zM488 121h25v6h-25zM189 127h7v5h-7zM202 127h6v5h-6zM488 127h25v5h-25zM189 132h7v5h-7zM488 132h25v5h-25zM233 137h25v5h-25zM488 137h18v5h-18zM196 142h6v5h-6zM488 142h18v5h-18zM196 147h6v5h-6zM270 147h19v5h-19zM488 147h12v5h-12zM202 152h6v6h-6zM202 158h12v5h-12zM301 158h19v5h-19zM426 158h12v5h-12zM214 163h19v5h-19zM258 163h6v5h-6zM426 163h12v5h-12zM270 168h19v5h-19zM426 168h12v5h-12zM301 173h13v5h-13zM426 173h12v5h-12zM314 178h6v5h-6zM426 178h18v5h-18zM426 183h12v6h-12zM426 189h12v5h-12zM320 194h6v5h-6zM438 209h6v5h-6zM438 214h6v5h-6zM438 219h6v6h-6zM314 225h6v5h-6zM438 225h6v5h-6zM438 230h6v5h-6zM438 235h6v5h-6zM438 240h6v5h-6zM295 245h6v5h-6zM233 276h6v5h-6zM227 281h6v5h-6zM214 292h7v5h-7zM444 292h13v5h-13zM214 297h7v5h-7zM494 297h6v5h-6zM196 302h6v5h-6zM506 302h7v5h-7zM183 307h6v5h-6zM513 307h6v5h-6zM115 312h6v5h-6zM134 312h6v5h-6zM177 312h6v5h-6zM513 312h6v5h-6zM109 317h6v6h-6zM146 317h31v6h-31zM519 317h6v6h-6zM102 323h7v5h-7zM146 323h31v5h-31zM519 323h6v5h-6zM74 328h4v5h-4zM102 328h7v5h-7zM146 328h31v5h-31zM519 328h6v5h-6zM74 333h35v5h-35zM146 333h31v5h-31zM519 333h6v5h-6zM74 338h28v5h-28zM146 338h25v5h-25zM74 343h4v5h-4zM519 348h6v6h-6zM494 354h31v5h-31zM488 359h6v5h-6zM519 359h6v5h-6zM488 364h6v5h-6zM513 369h6v5h-6zM488 374h6v5h-6zM506 374h7v5h-7zM494 379h12v5h-12z"/><path fill="#7e04ff" d="M74 91h115v5h-115zM463 91h19v5h-19zM513 91h12v5h-12zM74 96h115v5h-115zM451 96h31v5h-31zM513 96h12v5h-12zM177 101h12v5h-12zM444 101h44v5h-44zM513 101h6v5h-6zM177 106h6v5h-6zM444 106h44v5h-44zM513 106h6v5h-6zM177 111h6v5h-6zM444 111h44v5h-44zM513 111h6v5h-6zM177 116h6v5h-6zM444 116h44v5h-44zM513 116h6v5h-6zM177 121h6v6h-6zM444 121h44v6h-44zM513 121h6v6h-6zM177 127h12v5h-12zM426 127h12v5h-12zM444 127h44v5h-44zM513 127h6v5h-6zM177 132h12v5h-12zM426 132h12v5h-12zM444 132h44v5h-44zM513 132h6v5h-6zM426 137h12v5h-12zM444 137h44v5h-44zM506 137h7v5h-7zM233 142h31v5h-31zM426 142h12v5h-12zM444 142h44v5h-44zM506 142h7v5h-7zM426 147h12v5h-12zM444 147h44v5h-44zM500 147h6v5h-6zM196 152h6v6h-6zM277 152h18v6h-18zM426 152h12v6h-12zM196 158h6v5h-6zM202 163h12v5h-12zM233 163h12v5h-12zM252 163h6v5h-6zM208 168h25v5h-25zM264 168h6v5h-6zM295 173h6v5h-6zM301 178h13v5h-13zM314 183h6v6h-6zM438 183h6v6h-6zM314 189h6v5h-6zM438 189h6v5h-6zM314 194h6v5h-6zM438 194h6v5h-6zM320 199h6v5h-6zM438 199h6v5h-6zM438 204h6v5h-6zM252 256h6v5h-6zM245 261h7v5h-7zM239 266h6v5h-6zM444 281h7v5h-7zM444 286h13v6h-13zM457 292h12v5h-12zM500 297h13v5h-13zM513 302h6v5h-6zM519 307h6v5h-6zM74 312h4v5h-4zM109 312h6v5h-6zM140 312h37v5h-37zM519 312h6v5h-6zM74 317h10v6h-10zM102 317h7v6h-7zM74 323h28v5h-28zM78 328h24v5h-24zM494 359h25v5h-25zM513 364h6v5h-6zM488 369h6v5h-6zM506 369h7v5h-7zM494 374h12v5h-12z"/><path fill="#8004ff" d="M74 101h103v5h-103zM519 101h6v5h-6zM74 106h103v5h-103zM519 106h6v5h-6zM74 111h103v5h-103zM519 111h6v5h-6zM74 116h103v5h-103zM519 116h6v5h-6zM74 121h103v6h-103zM519 121h6v6h-6zM158 127h19v5h-19zM519 127h6v5h-6zM165 132h12v5h-12zM519 132h6v5h-6zM513 137h6v5h-6zM513 142h6v5h-6zM233 147h37v5h-37zM506 147h7v5h-7zM444 152h19v6h-19zM283 158h18v5h-18zM444 158h13v5h-13zM196 163h6v5h-6zM245 163h7v5h-7zM202 168h6v5h-6zM233 168h12v5h-12zM252 168h12v5h-12zM283 173h12v5h-12zM289 178h12v5h-12zM258 204h6v5h-6zM252 214h6v5h-6zM258 219h6v6h-6zM320 219h6v6h-6zM258 250h6v6h-6zM233 271h6v5h-6zM227 276h6v5h-6zM444 276h7v5h-7zM451 281h12v5h-12zM221 286h6v6h-6zM457 286h12v6h-12zM208 292h6v5h-6zM469 292h56v5h-56zM208 297h6v5h-6zM513 297h6v5h-6zM74 302h10v5h-10zM189 302h7v5h-7zM519 302h6v5h-6zM74 307h22v5h-22zM121 307h6v5h-6zM177 307h6v5h-6zM78 312h31v5h-31zM84 317h18v6h-18zM494 364h19v5h-19zM494 369h12v5h-12z"/><path fill="#8205fe" d="M74 127h84v5h-84zM74 132h91v5h-91zM519 137h6v5h-6zM233 152h44v6h-44zM463 152h12v6h-12zM457 158h12v5h-12zM444 163h7v5h-7zM196 168h6v5h-6zM245 168h7v5h-7zM233 173h12v5h-12zM270 173h13v5h-13zM233 178h6v5h-6zM277 178h12v5h-12zM314 199h6v5h-6zM320 204h6v5h-6zM252 219h6v6h-6zM308 235h6v5h-6zM444 271h7v5h-7zM451 276h12v5h-12zM463 281h6v5h-6zM74 286h28v6h-28zM469 286h56v6h-56zM74 292h35v5h-35zM74 297h22v5h-22zM519 297h6v5h-6zM84 302h18v5h-18zM96 307h25v5h-25zM127 307h13v5h-13zM171 307h6v5h-6z"/><path fill="#8505fd" d="M127 137h69v5h-69zM519 142h6v5h-6zM513 147h6v5h-6zM475 152h19v6h-19zM233 158h50v5h-50zM469 158h13v5h-13zM451 163h12v5h-12zM444 168h7v5h-7zM196 173h37v5h-37zM245 173h25v5h-25zM239 178h13v5h-13zM233 183h19v6h-19zM270 183h44v6h-44zM245 204h7v5h-7zM245 209h7v5h-7zM320 209h6v5h-6zM245 214h7v5h-7zM320 214h6v5h-6zM245 219h7v6h-7zM252 225h12v5h-12zM295 240h6v5h-6zM289 245h6v5h-6zM245 256h7v5h-7zM239 261h6v5h-6zM233 266h6v5h-6zM444 266h7v5h-7zM227 271h6v5h-6zM451 271h12v5h-12zM463 276h6v5h-6zM74 281h28v5h-28zM469 281h56v5h-56zM102 286h7v6h-7zM109 292h6v5h-6zM202 292h6v5h-6zM96 297h6v5h-6zM102 302h7v5h-7zM183 302h6v5h-6zM140 307h31v5h-31z"/><path fill="#8706fb" d="M152 142h44v5h-44zM494 152h6v6h-6zM482 158h6v5h-6zM463 163h12v5h-12zM451 168h6v5h-6zM444 173h7v5h-7zM196 178h37v5h-37zM252 178h6v5h-6zM270 178h7v5h-7zM314 219h6v6h-6zM245 225h7v5h-7zM252 230h12v5h-12zM252 235h12v5h-12zM301 235h7v5h-7zM252 240h18v5h-18zM252 245h18v5h-18zM252 250h6v6h-6zM444 261h7v5h-7zM451 266h6v5h-6zM102 281h7v5h-7zM102 297h7v5h-7zM202 297h6v5h-6zM109 302h6v5h-6z"/><path fill="#8906f8" d="M74 137h53v5h-53zM152 147h44v5h-44zM519 147h6v5h-6zM500 152h13v6h-13zM488 158h6v5h-6zM475 163h7v5h-7zM457 168h12v5h-12zM451 173h6v5h-6zM183 178h13v5h-13zM258 178h12v5h-12zM444 178h7v5h-7zM202 183h31v6h-31zM444 183h7v6h-7zM245 189h7v5h-7zM295 189h19v5h-19zM444 189h7v5h-7zM444 194h7v5h-7zM245 199h13v5h-13zM277 199h6v5h-6zM444 199h7v5h-7zM314 204h6v5h-6zM444 204h7v5h-7zM264 209h6v5h-6zM264 214h6v5h-6zM264 219h6v6h-6zM245 230h7v5h-7zM308 230h6v5h-6zM245 235h7v5h-7zM270 245h7v5h-7zM444 256h7v5h-7zM227 266h6v5h-6zM221 281h6v5h-6zM115 292h6v5h-6zM109 297h6v5h-6zM115 302h12v5h-12zM177 302h6v5h-6z"/><path fill="#8b07f4" d="M134 142h18v5h-18zM158 152h38v6h-38zM513 152h12v6h-12zM165 158h31v5h-31zM494 158h6v5h-6zM165 163h31v5h-31zM482 163h6v5h-6zM171 168h25v5h-25zM469 168h6v5h-6zM457 173h6v5h-6zM451 178h6v5h-6zM196 183h6v6h-6zM451 183h6v6h-6zM451 189h12v5h-12zM245 194h7v5h-7zM277 194h6v5h-6zM295 194h19v5h-19zM451 194h12v5h-12zM283 199h6v5h-6zM451 199h6v5h-6zM314 209h6v5h-6zM444 209h7v5h-7zM239 214h6v5h-6zM314 214h6v5h-6zM239 219h6v6h-6zM295 235h6v5h-6zM245 240h7v5h-7zM289 240h6v5h-6zM283 245h6v5h-6zM444 250h7v6h-7zM451 261h6v5h-6zM469 276h19v5h-19zM196 297h6v5h-6zM127 302h7v5h-7zM171 302h6v5h-6z"/><path fill="#8d07ef" d="M74 142h60v5h-60zM500 158h13v5h-13zM475 168h7v5h-7zM171 173h25v5h-25zM463 173h6v5h-6zM177 178h6v5h-6zM457 178h6v5h-6zM189 183h7v6h-7zM252 183h18v6h-18zM457 183h6v6h-6zM227 189h6v5h-6zM239 189h6v5h-6zM277 189h6v5h-6zM258 199h6v5h-6zM289 199h25v5h-25zM277 204h12v5h-12zM451 204h6v5h-6zM239 209h6v5h-6zM239 225h6v5h-6zM264 225h6v5h-6zM301 230h7v5h-7zM264 235h6v5h-6zM270 240h7v5h-7zM245 245h7v5h-7zM277 245h6v5h-6zM444 245h7v5h-7zM245 250h7v6h-7zM239 256h6v5h-6zM233 261h6v5h-6zM457 266h6v5h-6zM463 271h6v5h-6zM221 276h6v5h-6zM488 276h37v5h-37zM109 286h6v6h-6zM196 292h6v5h-6zM115 297h6v5h-6zM134 302h12v5h-12zM158 302h13v5h-13z"/><path fill="#8f08ea" d="M146 147h6v5h-6zM158 158h7v5h-7zM513 158h12v5h-12zM488 163h6v5h-6zM165 168h6v5h-6zM482 168h6v5h-6zM469 173h6v5h-6zM463 178h6v5h-6zM183 183h6v6h-6zM463 183h6v6h-6zM214 189h13v5h-13zM463 189h6v5h-6zM457 199h6v5h-6zM289 204h25v5h-25zM444 214h7v5h-7zM308 225h6v5h-6zM295 230h6v5h-6zM444 240h7v5h-7zM239 245h6v5h-6zM451 256h6v5h-6zM227 261h6v5h-6zM74 276h28v5h-28zM121 297h6v5h-6zM189 297h7v5h-7zM146 302h12v5h-12z"/><path fill="#9109e4" d="M152 152h6v6h-6zM158 163h7v5h-7zM494 163h6v5h-6zM208 189h6v5h-6zM233 189h6v5h-6zM289 189h6v5h-6zM252 194h6v5h-6zM283 194h12v5h-12zM463 194h6v5h-6zM457 204h6v5h-6zM295 209h13v5h-13zM451 209h6v5h-6zM444 219h7v6h-7zM301 225h7v5h-7zM264 230h6v5h-6zM289 235h6v5h-6zM239 240h6v5h-6zM233 245h6v5h-6zM451 250h6v6h-6zM457 261h6v5h-6zM221 271h6v5h-6zM469 271h6v5h-6zM214 286h7v6h-7zM121 292h6v5h-6zM183 297h6v5h-6z"/><path fill="#9309dd" d="M134 147h12v5h-12zM475 173h7v5h-7zM469 178h6v5h-6zM202 189h6v5h-6zM295 225h6v5h-6zM239 235h6v5h-6zM444 235h7v5h-7zM283 240h6v5h-6zM109 281h6v5h-6zM115 286h6v6h-6zM127 297h7v5h-7z"/><path fill="#950ad5" d="M74 147h28v5h-28zM152 158h6v5h-6zM500 163h6v5h-6zM488 168h6v5h-6zM165 173h6v5h-6zM171 178h6v5h-6zM469 183h6v6h-6zM189 189h13v5h-13zM252 189h6v5h-6zM270 189h7v5h-7zM283 189h6v5h-6zM227 194h6v5h-6zM258 194h6v5h-6zM233 214h6v5h-6zM451 214h6v5h-6zM233 219h6v6h-6zM295 219h19v6h-19zM444 225h7v5h-7zM239 230h6v5h-6zM289 230h6v5h-6zM444 230h7v5h-7zM233 240h6v5h-6zM451 245h6v5h-6zM239 250h6v6h-6zM227 256h12v5h-12zM463 266h6v5h-6zM102 276h7v5h-7zM134 297h6v5h-6zM171 297h12v5h-12z"/><path fill="#970bcd" d="M102 147h32v5h-32zM146 152h6v6h-6zM506 163h7v5h-7zM158 168h7v5h-7zM177 183h6v6h-6zM183 189h6v5h-6zM258 189h6v5h-6zM469 189h6v5h-6zM221 194h6v5h-6zM239 194h6v5h-6zM270 199h7v5h-7zM463 199h6v5h-6zM270 204h7v5h-7zM233 209h6v5h-6zM289 209h6v5h-6zM308 209h6v5h-6zM457 209h6v5h-6zM295 214h19v5h-19zM270 235h7v5h-7zM227 240h6v5h-6zM451 240h6v5h-6zM227 245h6v5h-6zM227 250h6v6h-6zM457 256h6v5h-6zM221 266h6v5h-6zM475 271h19v5h-19zM127 292h7v5h-7zM140 297h6v5h-6zM165 297h6v5h-6z"/><path fill="#990cc4" d="M109 152h6v6h-6zM513 163h12v5h-12zM494 168h6v5h-6zM482 173h6v5h-6zM264 189h6v5h-6zM270 194h7v5h-7zM227 199h6v5h-6zM239 204h6v5h-6zM283 209h6v5h-6zM289 214h6v5h-6zM289 219h6v6h-6zM451 219h6v6h-6zM233 225h6v5h-6zM289 225h6v5h-6zM233 235h6v5h-6zM277 240h6v5h-6zM494 271h6v5h-6zM121 286h6v6h-6zM146 297h19v5h-19z"/><path fill="#9b0dbb" d="M74 152h35v6h-35zM134 152h12v6h-12zM146 158h6v5h-6zM152 163h6v5h-6zM475 178h7v5h-7zM475 183h7v6h-7zM214 194h7v5h-7zM469 194h6v5h-6zM239 199h6v5h-6zM463 204h6v5h-6zM270 209h7v5h-7zM451 225h6v5h-6zM233 230h6v5h-6zM451 230h6v5h-6zM283 235h6v5h-6zM451 235h6v5h-6zM233 250h6v6h-6zM457 250h6v6h-6zM221 261h6v5h-6zM463 261h6v5h-6zM469 266h6v5h-6zM115 281h6v5h-6zM134 292h6v5h-6z"/><path fill="#9d0eb0" d="M208 194h6v5h-6zM227 235h6v5h-6z"/><path fill="#9f0fa6" d="M115 152h19v6h-19zM102 158h13v5h-13zM500 168h6v5h-6zM158 173h7v5h-7zM488 173h6v5h-6zM177 189h6v5h-6zM202 194h6v5h-6zM277 209h6v5h-6zM457 214h6v5h-6zM457 245h6v5h-6zM221 256h6v5h-6zM500 271h13v5h-13zM189 292h7v5h-7z"/><path fill="#a1109b" d="M74 158h4v5h-4zM506 168h7v5h-7zM482 178h6v5h-6zM189 194h13v5h-13zM233 194h6v5h-6zM221 199h6v5h-6zM227 204h6v5h-6zM264 204h6v5h-6zM463 209h6v5h-6zM283 214h6v5h-6zM283 230h6v5h-6zM221 250h6v6h-6zM475 266h7v5h-7zM109 276h6v5h-6zM214 281h7v5h-7zM127 286h7v6h-7zM208 286h6v6h-6z"/><path fill="#a2118f" d="M134 158h12v5h-12zM152 168h6v5h-6zM513 168h12v5h-12zM475 189h7v5h-7zM183 194h6v5h-6zM264 199h6v5h-6zM283 219h6v6h-6zM457 219h6v6h-6zM457 240h6v5h-6zM463 256h6v5h-6zM513 271h12v5h-12zM140 292h6v5h-6zM171 292h18v5h-18z"/><path fill="#a41283" d="M165 178h6v5h-6zM74 271h4v5h-4z"/><path fill="#a61376" d="M78 158h24v5h-24zM115 158h19v5h-19zM102 163h13v5h-13zM146 163h6v5h-6zM494 173h6v5h-6zM171 183h6v6h-6zM482 183h6v6h-6zM264 194h6v5h-6zM469 199h6v5h-6zM227 209h6v5h-6zM277 214h6v5h-6zM283 225h6v5h-6zM457 225h6v5h-6zM270 230h7v5h-7zM277 235h6v5h-6zM221 245h6v5h-6zM469 261h6v5h-6zM482 266h12v5h-12zM78 271h6v5h-6z"/><path fill="#a81569" d="M74 163h4v5h-4zM214 199h7v5h-7zM463 214h6v5h-6zM457 230h6v5h-6zM457 235h6v5h-6zM463 250h6v6h-6zM115 276h6v5h-6zM214 276h7v5h-7zM121 281h6v5h-6zM202 286h6v6h-6zM146 292h6v5h-6z"/><path fill="#a9165c" d="M115 163h6v5h-6zM488 178h6v5h-6zM177 194h6v5h-6zM475 194h7v5h-7zM233 199h6v5h-6zM469 204h6v5h-6zM227 214h6v5h-6zM270 214h7v5h-7zM214 256h7v5h-7zM494 266h6v5h-6zM84 271h6v5h-6zM165 292h6v5h-6z"/><path fill="#ab174e" d="M208 199h6v5h-6z"/><path fill="#ad1940" d="M134 163h12v5h-12zM74 168h4v5h-4zM109 168h6v5h-6zM152 173h6v5h-6zM171 189h6v5h-6zM196 199h12v5h-12zM221 204h6v5h-6zM233 204h6v5h-6zM227 219h6v6h-6zM277 219h6v6h-6zM221 240h6v5h-6zM463 245h6v5h-6zM214 250h7v6h-7zM214 261h7v5h-7zM475 261h7v5h-7zM214 266h7v5h-7zM96 271h13v5h-13zM214 271h7v5h-7zM134 286h6v6h-6zM152 292h13v5h-13z"/><path fill="#af1a32" d="M500 173h6v5h-6zM189 199h7v5h-7zM227 225h6v5h-6zM90 271h6v5h-6z"/><path fill="#b01c24" d="M78 163h24v5h-24zM121 163h13v5h-13zM146 168h6v5h-6zM506 173h7v5h-7zM488 183h6v6h-6zM482 189h6v5h-6zM463 219h6v6h-6zM270 225h7v5h-7zM463 240h6v5h-6zM469 256h6v5h-6zM127 281h7v5h-7z"/><path fill="#b21d16" d="M78 168h31v5h-31zM513 173h12v5h-12zM158 178h7v5h-7zM183 199h6v5h-6zM221 209h6v5h-6zM469 209h6v5h-6zM270 219h7v6h-7zM227 230h6v5h-6zM277 230h6v5h-6zM208 250h6v6h-6zM208 256h6v5h-6zM482 261h6v5h-6zM196 286h6v6h-6z"/><path fill="#b31f07" d="M165 183h6v6h-6zM214 245h7v5h-7z"/><path fill="#b52100" d="M115 168h31v5h-31zM74 173h41v5h-41zM74 178h22v5h-22zM494 178h6v5h-6zM475 199h7v5h-7zM214 204h7v5h-7zM221 214h6v5h-6zM469 214h6v5h-6zM463 225h6v5h-6zM221 235h6v5h-6zM469 250h6v6h-6zM208 261h6v5h-6zM488 261h6v5h-6zM500 266h6v5h-6zM109 271h6v5h-6zM208 281h6v5h-6z"/><path fill="#b72300" d="M146 173h6v5h-6zM500 178h13v5h-13zM488 189h6v5h-6zM171 194h6v5h-6zM177 199h6v5h-6zM196 204h18v5h-18zM469 219h6v6h-6zM277 225h6v5h-6zM463 230h6v5h-6zM463 235h6v5h-6zM208 245h6v5h-6zM469 245h6v5h-6zM202 250h6v6h-6zM475 256h7v5h-7zM208 266h6v5h-6zM506 266h7v5h-7zM121 276h6v5h-6zM208 276h6v5h-6z"/><path fill="#b82400" d="M115 173h19v5h-19zM96 178h38v5h-38zM513 178h12v5h-12zM189 204h7v5h-7zM221 219h6v6h-6zM494 261h6v5h-6zM189 286h7v6h-7z"/><path fill="#ba2600" d="M494 183h6v6h-6zM482 194h6v5h-6zM475 204h7v5h-7zM214 209h7v5h-7zM469 225h6v5h-6zM469 240h6v5h-6zM202 256h6v5h-6zM513 266h6v5h-6zM115 271h6v5h-6zM208 271h6v5h-6zM140 286h6v6h-6zM171 286h18v6h-18z"/><path fill="#bb2800" d="M74 183h4v6h-4zM183 204h6v5h-6zM202 209h12v5h-12zM475 209h7v5h-7zM475 214h7v5h-7zM475 219h25v6h-25zM221 225h6v5h-6zM202 261h6v5h-6zM74 266h10v5h-10zM202 281h6v5h-6z"/><path fill="#bd2a00" d="M152 178h6v5h-6zM78 183h43v6h-43zM165 189h6v5h-6zM196 209h6v5h-6zM214 214h7v5h-7zM500 219h6v6h-6z"/><path fill="#bf2c00" d="M121 183h6v6h-6zM500 183h25v6h-25zM482 199h6v5h-6zM189 209h7v5h-7zM482 214h24v5h-24zM506 219h7v6h-7zM475 225h31v5h-31zM469 230h6v5h-6zM214 240h7v5h-7zM475 250h7v6h-7zM482 256h6v5h-6zM84 266h6v5h-6zM202 266h6v5h-6zM519 266h6v5h-6zM202 271h6v5h-6zM127 276h7v5h-7zM202 276h6v5h-6zM134 281h6v5h-6zM158 286h13v6h-13z"/><path fill="#c02f00" d="M127 183h7v6h-7zM158 183h7v6h-7zM171 199h6v5h-6zM177 204h6v5h-6zM506 214h7v5h-7zM221 230h6v5h-6z"/><path fill="#c23100" d="M134 173h12v5h-12zM494 189h6v5h-6zM488 194h6v5h-6zM183 209h6v5h-6zM482 209h31v5h-31zM196 214h18v5h-18zM214 219h7v6h-7zM513 219h12v6h-12zM506 225h19v5h-19zM469 235h6v5h-6zM202 245h6v5h-6zM134 250h6v6h-6zM140 256h6v5h-6zM488 256h6v5h-6zM500 261h6v5h-6zM109 266h6v5h-6zM121 271h6v5h-6zM196 281h6v5h-6zM146 286h12v6h-12z"/><path fill="#c33300" d="M146 178h6v5h-6zM74 189h4v5h-4zM482 204h6v5h-6zM102 266h7v5h-7z"/><path fill="#c53600" d="M78 189h24v5h-24zM165 194h6v5h-6zM488 199h12v5h-12zM488 204h25v5h-25zM189 214h7v5h-7zM513 214h6v5h-6zM475 230h7v5h-7zM513 230h12v5h-12zM475 245h7v5h-7zM196 256h6v5h-6zM196 261h6v5h-6zM90 266h12v5h-12zM196 266h6v5h-6zM196 271h6v5h-6zM196 276h6v5h-6z"/><path fill="#c63800" d="M102 189h7v5h-7zM74 230h4v5h-4zM506 230h7v5h-7z"/><path fill="#c83b00" d="M109 189h6v5h-6zM500 189h6v5h-6zM513 189h6v5h-6zM500 199h13v5h-13zM171 204h6v5h-6zM177 209h6v5h-6zM513 209h6v5h-6zM519 214h6v5h-6zM74 225h4v5h-4zM482 230h24v5h-24zM208 240h6v5h-6zM475 240h7v5h-7zM196 250h6v6h-6zM134 256h6v5h-6zM494 256h6v5h-6zM140 261h6v5h-6zM506 261h7v5h-7zM115 266h6v5h-6zM134 276h6v5h-6zM171 281h12v5h-12zM189 281h7v5h-7z"/><path fill="#c93d00" d="M140 178h6v5h-6zM146 183h12v6h-12zM158 189h7v5h-7zM183 214h6v5h-6zM202 219h12v6h-12zM214 225h7v5h-7zM74 235h4v5h-4zM74 261h4v5h-4zM134 261h6v5h-6z"/><path fill="#cb4000" d="M506 189h7v5h-7zM494 194h6v5h-6zM165 199h6v5h-6zM196 219h6v6h-6zM475 235h7v5h-7zM140 250h6v6h-6zM482 250h6v6h-6zM127 256h7v5h-7zM78 261h6v5h-6zM115 261h19v5h-19zM513 261h6v5h-6zM121 266h6v5h-6zM189 276h7v5h-7zM183 281h6v5h-6z"/><path fill="#cc4300" d="M134 178h6v5h-6zM115 189h19v5h-19zM74 194h4v5h-4zM74 219h4v6h-4zM78 230h6v5h-6zM214 235h7v5h-7zM519 235h6v5h-6zM74 240h4v5h-4zM140 245h6v5h-6zM109 261h6v5h-6z"/><path fill="#cd4600" d="M519 189h6v5h-6zM109 194h6v5h-6zM158 194h7v5h-7zM500 194h6v5h-6zM513 204h6v5h-6zM519 209h6v5h-6zM189 219h7v6h-7zM78 225h6v5h-6zM482 235h6v5h-6zM513 235h6v5h-6zM196 245h6v5h-6zM140 266h6v5h-6zM189 266h7v5h-7zM127 271h7v5h-7zM189 271h7v5h-7zM171 276h12v5h-12zM140 281h6v5h-6z"/><path fill="#cf4900" d="M152 189h6v5h-6zM171 209h6v5h-6zM177 214h6v5h-6zM78 235h12v5h-12zM506 235h7v5h-7z"/><path fill="#d04c00" d="M513 194h6v5h-6zM513 199h6v5h-6zM84 230h6v5h-6zM488 235h18v5h-18zM84 240h6v5h-6zM488 250h6v6h-6zM189 256h7v5h-7zM500 256h6v5h-6zM152 261h6v5h-6zM189 261h7v5h-7zM519 261h6v5h-6zM127 266h13v5h-13zM171 271h12v5h-12zM165 281h6v5h-6z"/><path fill="#d24f00" d="M140 183h6v6h-6zM102 194h7v5h-7zM506 194h7v5h-7zM74 199h4v5h-4zM165 204h6v5h-6zM74 214h4v5h-4zM183 219h6v6h-6zM208 225h6v5h-6zM74 245h4v5h-4zM134 245h6v5h-6zM482 245h6v5h-6zM165 266h24v5h-24zM165 271h6v5h-6zM183 276h6v5h-6zM158 281h7v5h-7z"/><path fill="#d35200" d="M115 194h6v5h-6zM202 225h6v5h-6z"/><path fill="#d45500" d="M78 194h24v5h-24zM121 194h13v5h-13zM158 199h7v5h-7zM84 225h6v5h-6zM196 225h6v5h-6zM90 230h6v5h-6zM214 230h7v5h-7zM90 235h6v5h-6zM78 240h6v5h-6zM202 240h6v5h-6zM482 240h6v5h-6zM519 240h6v5h-6zM84 245h6v5h-6zM127 250h7v6h-7zM189 250h7v6h-7zM121 256h6v5h-6zM84 261h6v5h-6zM146 261h6v5h-6zM158 261h7v5h-7zM158 266h7v5h-7zM134 271h6v5h-6zM183 271h6v5h-6zM165 276h6v5h-6zM146 281h12v5h-12z"/><path fill="#d65800" d="M519 194h6v5h-6zM74 204h4v5h-4zM519 204h6v5h-6zM74 209h4v5h-4zM488 245h6v5h-6zM494 250h6v6h-6zM152 256h13v5h-13zM506 256h7v5h-7zM165 261h24v5h-24z"/><path fill="#d75c00" d="M134 183h6v6h-6zM152 194h6v5h-6zM519 199h6v5h-6zM165 209h6v5h-6zM171 214h6v5h-6zM78 219h6v6h-6zM177 219h6v6h-6zM90 240h6v5h-6zM488 240h12v5h-12zM513 240h6v5h-6zM78 245h6v5h-6zM127 245h7v5h-7zM121 250h6v6h-6zM152 250h37v6h-37zM74 256h4v5h-4zM115 256h6v5h-6zM146 256h6v5h-6zM165 256h24v5h-24zM513 256h6v5h-6zM102 261h7v5h-7zM146 266h12v5h-12zM140 271h6v5h-6zM140 276h6v5h-6z"/><path fill="#d85f00" d="M109 256h6v5h-6z"/><path fill="#da6300" d="M134 189h6v5h-6zM189 225h7v5h-7zM500 240h6v5h-6zM189 245h7v5h-7zM494 245h6v5h-6zM519 245h6v5h-6zM158 271h7v5h-7z"/><path fill="#db6700" d="M134 194h6v5h-6zM90 225h6v5h-6zM96 230h6v5h-6zM165 245h24v5h-24zM74 250h4v6h-4zM146 250h6v6h-6zM500 250h6v6h-6zM519 256h6v5h-6zM96 261h6v5h-6zM158 276h7v5h-7z"/><path fill="#dd6b00" d="M146 189h6v5h-6zM109 199h6v5h-6zM158 204h7v5h-7zM78 214h6v5h-6zM96 235h6v5h-6zM208 235h6v5h-6zM127 240h13v5h-13zM506 240h7v5h-7zM121 245h6v5h-6zM158 245h7v5h-7zM513 250h12v6h-12zM78 256h6v5h-6zM146 271h12v5h-12zM146 276h12v5h-12z"/><path fill="#de6f00" d="M152 245h6v5h-6z"/><path fill="#df7300" d="M78 199h6v5h-6zM115 199h6v5h-6z"/><path fill="#e07700" d="M121 199h13v5h-13zM152 199h6v5h-6zM115 204h6v5h-6zM78 209h6v5h-6zM165 214h6v5h-6zM84 219h6v6h-6zM171 219h6v6h-6zM183 225h6v5h-6zM121 240h6v5h-6zM140 240h6v5h-6zM196 240h6v5h-6zM146 245h6v5h-6zM500 245h6v5h-6zM513 245h6v5h-6zM506 250h7v6h-7zM90 261h6v5h-6z"/><path fill="#e27b00" d="M102 235h7v5h-7zM115 250h6v6h-6z"/><path fill="#e37f00" d="M78 204h6v5h-6zM121 204h6v5h-6zM102 230h7v5h-7zM208 230h6v5h-6zM90 245h6v5h-6zM115 245h6v5h-6zM78 250h6v6h-6zM109 250h6v6h-6zM102 256h7v5h-7z"/><path fill="#e48300" d="M146 194h6v5h-6zM127 204h7v5h-7zM158 209h7v5h-7zM96 225h6v5h-6zM202 235h6v5h-6zM96 240h13v5h-13zM109 245h6v5h-6z"/><path fill="#e68800" d="M102 225h7v5h-7zM109 235h6v5h-6z"/><path fill="#e78d00" d="M140 189h6v5h-6zM102 199h7v5h-7zM134 199h6v5h-6zM84 214h6v5h-6zM90 219h12v6h-12zM109 230h6v5h-6zM115 240h6v5h-6z"/><path fill="#e89100" d="M84 199h6v5h-6zM109 204h6v5h-6zM177 225h6v5h-6zM196 230h6v5h-6zM109 240h6v5h-6zM189 240h7v5h-7zM84 250h6v6h-6z"/><path fill="#e99600" d="M90 199h12v5h-12zM115 235h19v5h-19z"/><path fill="#eb9b00" d="M152 204h6v5h-6zM84 209h6v5h-6zM115 209h6v5h-6zM102 219h13v6h-13zM165 219h6v6h-6zM109 225h6v5h-6zM196 235h6v5h-6zM146 240h6v5h-6zM177 240h12v5h-12zM506 245h7v5h-7zM102 250h7v6h-7z"/><path fill="#eca000" d="M90 214h6v5h-6zM115 230h6v5h-6zM202 230h6v5h-6z"/><path fill="#eda500" d="M140 194h6v5h-6zM146 199h6v5h-6zM84 204h6v5h-6zM121 209h13v5h-13zM96 214h19v5h-19zM158 214h7v5h-7zM121 230h6v5h-6zM134 235h6v5h-6zM102 245h7v5h-7zM96 256h6v5h-6z"/><path fill="#eeaa00" d="M102 204h7v5h-7zM109 209h6v5h-6zM115 214h6v5h-6zM115 219h6v6h-6zM115 225h6v5h-6zM127 230h7v5h-7zM158 240h19v5h-19zM96 245h6v5h-6zM96 250h6v6h-6zM84 256h6v5h-6z"/><path fill="#f0af00" d="M121 225h6v5h-6z"/><path fill="#f1b500" d="M90 204h12v5h-12zM134 204h6v5h-6zM90 209h19v5h-19zM152 209h6v5h-6zM121 214h13v5h-13zM121 219h6v6h-6zM127 225h7v5h-7zM171 225h6v5h-6zM189 230h7v5h-7zM152 240h6v5h-6z"/><path fill="#f2ba00" d="M127 219h7v6h-7z"/><path fill="#f3c000" d="M146 204h6v5h-6zM134 209h6v5h-6zM140 235h6v5h-6zM189 235h7v5h-7z"/><path fill="#f4c600" d="M140 199h6v5h-6zM134 230h6v5h-6zM90 256h6v5h-6z"/><path fill="#f6cc00" d="M90 250h6v6h-6z"/><path fill="#f8d800" d="M140 209h12v5h-12zM158 219h7v6h-7zM134 225h6v5h-6zM183 230h6v5h-6zM183 235h6v5h-6z"/><path fill="#f9de00" d="M134 214h6v5h-6zM152 214h6v5h-6zM134 219h6v6h-6z"/><path fill="#fae400" d="M146 235h6v5h-6zM177 235h6v5h-6z"/><path fill="#fceb00" d="M140 204h6v5h-6zM140 214h6v5h-6zM165 225h6v5h-6z"/><path fill="#fdf100" d="M146 214h6v5h-6zM140 230h6v5h-6zM177 230h6v5h-6zM165 235h12v5h-12z"/><path fill="#fef800" d="M140 219h6v6h-6zM152 219h6v6h-6zM146 230h6v5h-6zM152 235h13v5h-13z"/><path fill="#ffff00" d="M146 219h6v6h-6zM140 225h25v5h-25zM152 230h25v5h-25z"/></g>
<g clip-path="url(#pc)"><path d="M75.6 104.2L78.7 103.2L82.6 104.8L84.9 103.9L86.5 101.7L84.6 100.4L81.5 99.8L79.0 98.6L77.1 97.3M92.4 98.9L94.0 97.3L97.4 95.4L103.7 92.9L110.7 92.8L118.5 93.9L123.2 95.0L129.0 96.2L134.2 95.4L136.5 94.5L139.3 93.6L143.1 95.4L147.8 96.1L152.1 95.8L155.6 96.7L159.2 97.9L164.6 99.5L167.8 97.9L171.7 97.9L174.0 97.3M92.4 98.9L97.4 101.4L94.0 102.9L90.4 103.6L95.1 104.5L99.0 105.8L95.9 107.8L94.3 110.9L94.6 114.0L97.4 117.2L102.9 118.7L100.6 121.8L97.4 125.4L101.3 122.9L105.2 119.5L109.2 116.4L113.8 114.0L119.3 114.7L124.0 115.1L128.7 116.7L132.6 118.7L135.2 122.3L138.4 126.1L142.4 131.7M109.6 119.5L110.7 121.1M90.4 128.1L91.2 127.6M86.8 130.4L87.8 130.0M134.2 129.2L135.2 128.6M146.3 87.0L149.0 85.4L151.5 87.6L150.9 90.1L146.8 91.1L146.2 88.2L146.3 87.0M151.5 89.3L156.8 89.5L161.5 89.8L165.4 88.9L167.8 91.4L170.6 93.9L174.0 94.8M155.2 90.4L156.2 93.9L159.3 96.1L164.6 97.0L168.1 96.1M148.7 81.4L152.1 80.4L155.6 79.5L153.1 81.7L149.3 82.0L148.7 81.4M155.9 82.0L159.6 84.5L161.8 83.2L164.3 80.4L167.8 83.6L163.4 85.4L159.3 85.8L155.9 82.0M159.3 78.2L163.4 77.3M169.3 75.8L171.8 77.3L174.0 78.2M145.2 102.3L149.0 101.5L153.4 102.0L150.9 104.2L146.2 104.8L145.2 102.3M149.6 106.7L153.7 109.5L158.4 111.1L163.4 109.8M151.2 112.6L156.8 112.6L160.9 111.1M159.3 118.2L163.4 117.2L167.8 116.7L171.8 118.2L174.0 122.6M220.9 70.8L227.1 69.8L236.5 69.2L244.3 68.2L251.3 66.7L259.9 66.7L269.3 67.6L267.4 69.5L267.8 72.3L274.0 72.6M274.0 80.4L270.9 84.3L267.4 88.2L269.6 90.6L266.2 92.2L265.4 95.3L261.5 96.8L258.4 100.0L255.2 102.3L251.3 103.6L249.0 106.7L246.7 110.1L245.6 115.1L243.5 113.2L238.8 112.9L237.3 109.3L234.9 104.7L232.6 100.0L234.2 96.8L234.9 92.6L231.8 90.6L230.6 86.7L227.1 83.6L223.2 81.7L218.5 81.2L213.8 80.4L211.5 78.9L213.8 76.5L217.0 74.2L219.3 72.3L220.9 70.8M187.3 71.1L199.0 68.7L204.5 67.3L214.6 67.3L219.3 69.2L217.0 71.8L213.1 74.2L208.4 75.0L205.2 78.1L200.6 79.7L195.9 80.4L188.8 82.0L192.8 78.9L195.9 75.8L192.8 75.4L195.9 72.6L189.6 71.8L187.3 71.1M183.4 82.8L189.6 82.0L195.9 82.0L199.8 83.9L194.3 85.1L188.8 84.8L183.4 82.8M192.8 87.5L199.0 89.0L205.2 90.1L209.9 92.2L214.3 95.3L217.8 97.9L220.9 102.3L220.1 104.7L216.2 102.6L218.5 106.7L215.4 110.1L211.5 109.3L207.6 106.7L204.0 106.2L207.6 103.9L211.5 101.5L209.2 99.2L205.2 97.6L202.1 94.5L197.4 95.3L194.3 96.1L189.6 94.5L188.8 91.4L192.8 87.5M174.0 78.9L176.3 80.4L177.1 82.3L174.8 83.2M181.8 86.7L184.2 85.9L184.6 88.2L182.1 88.2L181.8 86.7M174.0 87.5L176.3 88.2L177.1 91.4L174.8 92.2M179.5 92.9L183.4 93.2L184.2 95.4L181.5 97.9L179.9 101.1M174.0 97.9L177.1 99.2L179.9 101.1M174.0 121.8L177.1 120.3L181.8 114.0L184.9 108.6L186.5 106.7L180.2 106.7M186.5 106.7L189.6 104.3L194.0 102.3L197.4 99.5L195.9 97.3L192.8 96.8M193.5 104.7L195.9 108.6L197.8 107.3L195.1 103.9L193.5 104.7M180.2 116.7L185.7 121.8L191.2 123.4L195.9 128.1L199.8 131.7M203.2 131.7L203.1 122.6L203.4 116.4L202.9 111.7L207.6 112.5L211.5 114.0L215.4 117.2L220.1 116.4L222.4 119.5L224.8 124.2L227.9 128.9L229.5 131.7M274.0 72.6L277.9 71.8L282.6 71.4L279.5 73.4L276.3 75.8L275.2 78.9L274.0 80.4M274.0 102.6L278.7 102.0L280.2 104.2L277.9 106.7L274.0 107.3M315.4 75.4L320.9 74.5L328.7 74.2L334.6 74.5L327.9 76.1L324.8 77.0L328.7 78.9L324.0 79.7L320.6 81.7L319.3 78.1L317.0 78.9L315.4 75.4M353.4 74.2L356.8 73.2L359.6 73.9L362.8 73.4M374.0 84.3L369.3 86.7L365.9 89.8L367.8 92.2L371.7 93.7M307.6 117.2L308.4 112.5L311.5 107.8L314.9 103.9L317.8 100.4L321.7 97.6L326.3 95.3L331.0 94.2L335.2 93.4L339.6 96.1L344.3 98.4L349.0 100.8L351.3 102.3L347.4 102.6L342.8 102.3L340.4 103.1L342.8 106.2L347.4 106.7L351.8 106.2L355.2 102.3L356.0 98.4L355.2 101.5L359.2 100.0L363.8 98.4L369.3 97.9L374.0 98.4M307.6 117.2L310.7 119.5L313.1 120.3L315.4 119.2L318.5 123.4L321.7 120.3L323.7 116.4L322.8 111.7L325.6 107.8L329.0 104.7L326.8 108.6L327.9 112.5L330.2 116.1L334.9 116.7L331.8 118.7L327.1 121.8L322.4 124.2L318.5 125.8L314.9 128.1L313.8 124.2L310.2 123.4L308.4 126.5L306.0 130.4L305.2 131.7M290.4 120.3L293.5 118.7L295.1 121.1L293.5 124.2L295.9 125.8L297.4 129.7L299.0 131.7M289.6 125.8L292.0 123.4L292.8 126.5L290.4 129.7L288.1 131.7M289.3 92.5L289.6 92.8M297.4 113.6L298.2 114.5M374.0 85.1L377.9 82.8L381.8 81.2L384.6 80.4L381.0 82.3L377.1 84.3L374.0 85.4M376.3 72.9L377.9 72.6M379.5 72.3L380.6 72.3M374.0 97.9L378.7 96.4L384.2 95.3L384.9 92.6L388.8 91.7L390.4 96.1L391.5 97.9L388.8 100.4L385.7 101.5L389.6 102.0L394.3 97.9L397.4 100.0L399.3 101.5L395.9 97.9L393.5 94.5L392.8 90.6L396.7 92.2L397.4 90.1L401.3 89.0L403.7 94.5L401.8 90.6L402.9 87.5L407.6 85.1L411.5 83.2L416.2 82.0L420.9 81.7L424.8 80.4L427.9 79.7L426.3 75.8L425.2 77.3L427.9 79.7L432.6 81.7L437.3 82.8L434.2 86.4L438.1 83.9L438.8 87.0L444.3 87.5L450.6 87.2L456.0 87.5L459.2 90.6L456.8 89.0L459.2 88.2L461.5 92.2L465.4 91.7L469.3 90.6L474.0 89.5M414.6 73.9L417.4 72.3L420.9 73.9L423.7 75.4L420.1 76.5L417.0 75.4L414.6 73.9M470.9 82.8L474.0 82.0M470.6 83.6L474.0 84.8M474.0 118.7L471.7 122.6L469.6 127.3L472.4 129.2L474.0 129.7M474.0 82.8L477.1 82.3L481.0 83.9L483.7 84.8M474.8 85.9L475.9 85.1M474.0 89.5L480.2 89.0L484.9 90.6L489.6 92.6L495.9 94.2L502.9 95.3L509.2 94.5L515.4 95.3L520.9 96.4L523.7 97.6M474.0 118.7L480.2 117.2L485.7 116.4L490.4 116.1L494.0 111.7L497.4 112.9L501.3 112.5L503.7 111.4L499.8 114.0L497.1 117.2L494.0 118.2L493.1 122.6L493.1 131.7M523.7 103.9L520.9 108.6L517.0 111.4L511.5 113.6L506.0 115.1L502.9 116.1L502.1 119.5L500.6 124.2L497.4 128.1L495.1 131.7M475.6 125.8L476.8 130.4L476.3 131.7M513.1 129.2L513.8 129.7M140.4 132.0L142.8 134.8L146.7 137.5L144.6 140.1L144.6 146.1L145.6 153.1L147.4 159.3L150.6 165.6L153.7 171.1L155.6 177.3L159.2 183.6L163.8 188.2L167.8 193.7L171.7 200.0L174.0 203.1M142.8 134.8L145.1 139.0L146.7 137.5M156.8 177.3L159.2 176.5L161.5 181.2L163.4 186.7L161.5 188.2L159.6 184.3L156.8 177.3M158.8 152.0L159.6 151.1M101.3 193.2L103.7 194.5L105.2 196.8M78.1 132.0L79.0 132.3M229.5 132.0L227.1 135.1L226.3 139.8L228.7 142.2L233.4 143.2L231.8 138.2L230.2 133.6L229.5 132.0M180.2 138.2L184.2 135.1M184.9 139.0L188.8 137.5L191.2 139.8L194.3 142.2L196.7 144.5L197.4 150.8L195.1 147.6L192.8 145.3L190.4 149.2L192.0 146.1L189.6 142.9L186.5 142.2L184.9 139.0M197.4 150.8L202.1 148.4L207.6 145.3L212.3 142.6L214.9 139.0L219.3 137.5L224.0 135.4L227.9 133.2M214.9 141.4L213.1 146.8L210.7 151.5L207.6 157.0L204.5 160.9L203.7 165.6L201.3 169.5L199.8 172.9L199.3 178.9L199.0 183.6L195.9 178.9L189.6 176.5L183.4 178.6L179.9 179.7L178.4 185.1L178.7 192.2L181.0 196.8L184.9 199.2L188.8 196.1L191.2 194.5L189.6 199.2L189.6 206.7M216.2 146.8L219.3 144.5L222.4 143.7L224.3 141.4M220.9 141.7L223.2 140.6M194.3 193.7L199.0 194.5L203.7 195.8L207.6 197.6M206.0 200.8L209.9 200.4L212.3 199.2M202.4 187.5L203.1 187.9M204.9 188.2L205.6 188.2M215.9 201.2L216.5 201.2M174.0 202.3L177.9 204.7L181.8 206.7M295.1 132.0L296.7 134.8L301.3 135.4L304.5 132.0M297.4 132.0L299.0 133.9L301.3 132.8M295.1 138.2L298.2 143.7L295.1 146.8L291.2 149.2L289.3 153.1L288.8 157.8L291.2 161.7L293.5 163.2L299.0 161.7L301.3 155.4L303.7 152.0L307.6 149.5L311.5 151.5L314.9 154.7L319.3 157.8L322.8 157.0L317.0 147.6L317.8 146.8L323.7 155.4L325.6 160.9L327.9 162.5L329.5 160.1L328.4 156.7L332.6 156.2L333.4 160.9L336.5 164.0L341.2 165.6L344.3 166.7L342.8 171.1L340.4 175.0L336.5 174.5L329.5 172.3L324.8 176.5L320.1 173.4L314.9 169.5L313.1 165.6L312.3 162.5L307.6 162.9L302.1 164.0L297.4 164.8L293.5 164.0L291.5 165.6L288.8 171.1L285.7 177.3L282.6 183.6L280.2 190.6L279.5 197.6L279.5 206.7M334.2 155.4L337.3 146.1L342.8 145.8L349.8 142.6L349.0 150.8L346.7 155.1L341.2 154.7L335.7 155.1L334.2 155.4M310.4 155.1L310.9 156.2M316.5 160.4L318.7 160.4M329.3 165.1L329.6 166.1M340.4 175.0L342.8 180.4L345.1 186.7L347.4 194.5L349.0 200.8L350.2 206.7M340.4 177.3L343.5 183.6L346.7 191.4L349.0 197.6L351.3 206.7M359.9 144.2L363.8 142.6L364.9 147.6L365.4 153.9L366.2 160.1L363.1 159.8L360.7 155.4L359.6 149.2L359.9 144.2M361.5 178.9L364.6 183.6L369.3 186.7L374.0 187.5M361.5 178.9L362.3 185.1L366.2 189.0L370.9 191.4L374.0 197.6M373.1 145.1L373.5 145.8M374.0 144.5L375.9 143.2L376.3 146.1L374.8 148.4M391.2 147.6L395.1 145.3L399.0 143.2M394.2 152.2L394.6 152.6M374.0 187.5L379.5 188.2L384.9 192.9L389.6 197.6L390.4 206.7M401.3 206.7L406.8 200.0L411.5 193.7L414.9 199.2L418.5 204.7L420.1 206.7M434.2 206.7L434.2 200.8L434.6 193.7L439.6 192.2L444.3 189.0L448.2 186.4L451.3 185.9L449.0 182.0L450.2 177.3L450.6 171.1L450.6 162.5L445.9 159.8L450.2 155.4L454.5 157.8L456.8 165.6L458.4 160.9L460.7 153.9L464.6 149.2L469.3 144.5L474.0 139.8M474.0 153.9L470.1 158.6L466.2 163.2L464.6 167.2L469.3 167.6L474.0 165.6M460.7 170.3L463.8 168.2L464.6 171.1L462.3 173.4L460.7 170.3M450.2 200.8L451.3 200.0L451.8 203.9L450.6 205.4L450.2 200.8M474.0 135.1L473.2 139.0M475.2 132.0L477.1 137.5L477.9 141.4L475.9 146.8L477.4 151.1L475.2 153.1L474.0 154.7M493.5 132.0L494.3 133.2M183.4 207.0L188.1 211.7L192.8 216.4L197.4 220.3L203.4 221.8M193.5 207.0L195.1 212.5L197.4 219.5M203.4 221.8L206.8 217.9L211.5 214.8L211.2 216.7L216.2 217.6L222.4 219.8L227.1 223.4L231.0 227.3L234.2 232.8L237.3 238.2L242.0 242.9L246.7 244.8L251.3 249.2L256.5 254.7L254.5 260.1L252.1 266.4L250.6 272.6L249.8 281.7M203.4 221.8L202.9 227.3L201.3 233.6L200.2 240.6L199.8 246.8L201.3 252.3L202.9 259.3L204.5 266.4L207.6 271.1L210.7 275.8L211.5 281.7M185.2 238.2L185.6 239.8M279.5 207.0L280.2 212.5L282.1 218.7L285.2 224.2L289.6 227.3L294.0 229.2L299.0 227.3L302.9 227.3L306.8 229.7L309.9 233.6L311.5 239.0L313.8 245.3L314.9 252.3L316.2 260.9L315.4 269.5L314.9 277.3L315.4 281.7M348.2 207.0L350.6 210.1L352.1 214.8L358.4 215.1L363.4 214.0L362.8 220.3L359.6 227.3L356.0 234.3L352.9 240.6L350.6 246.8L349.0 253.9L349.8 260.9L349.0 267.9L346.7 274.2L344.6 281.7M352.1 207.0L355.2 209.8L359.2 210.9L363.1 208.6L364.6 207.0M340.4 238.2L341.2 241.4L341.5 245.3M359.9 264.5L360.7 269.5L359.2 275.8L357.6 281.7M359.9 264.5L356.8 272.6L354.5 278.9L354.0 281.7M390.4 207.0L392.8 214.0L394.3 220.3L397.4 215.6L400.6 210.1L402.1 207.0M399.0 220.8L398.2 226.5M420.9 207.0L421.7 215.6L423.7 222.6L426.3 230.4M423.7 209.3L422.8 216.4L424.3 225.0M425.6 210.4L428.4 214.0L430.6 217.6L432.6 214.0L433.8 207.0M417.4 226.5L420.9 230.4L425.6 237.5L430.2 244.2L426.3 244.5L422.4 238.2L419.3 232.0L417.4 226.5M445.6 224.5L442.8 230.4L439.6 235.1L435.7 240.1L441.2 244.8L444.3 239.0L447.1 232.0L445.6 224.5M431.5 251.5L434.2 253.6L438.1 254.2L441.5 253.9L436.5 252.6L431.5 251.5M449.8 207.0L450.6 209.8L452.1 208.6M454.5 218.7L456.0 221.8L455.2 225.0L452.1 223.4L454.5 218.7M447.6 216.1L448.1 216.8M443.5 281.7L447.4 278.1L452.1 274.2L455.2 268.7L459.2 268.7M462.1 241.7L464.9 243.2L475.6 243.2L479.0 248.4L482.9 253.9L486.5 259.3L482.1 257.3L477.4 255.4L472.8 253.1L468.1 248.4L463.7 244.2L462.1 241.7M454.0 269.8L458.7 268.7L464.2 261.7L467.3 263.6L469.6 267.2L471.5 271.8L474.0 266.4L476.7 260.9L479.0 267.2L481.3 274.2L484.5 281.7M454.0 218.7L455.6 218.7L455.6 225.0L454.0 225.4M522.0 272.6L523.5 271.1M503.5 279.2L503.8 280.1M211.5 282.0L211.2 291.4L210.2 302.3L209.2 313.2L208.4 325.8L208.1 336.7L207.6 342.2L209.2 346.1L211.5 349.2L213.1 351.5M248.7 282.0L247.4 285.1L242.8 288.2L239.3 291.4L237.8 297.6L235.7 304.7L232.6 310.1L227.9 315.6L223.7 321.1L220.1 327.3L216.2 332.8L214.3 338.2L213.4 343.7L211.5 349.2M211.5 349.2L214.9 347.6L217.4 351.1L213.1 351.5L211.5 349.2M225.2 344.5L226.8 344.5M315.4 282.0L317.8 289.0L320.1 297.6L322.4 307.0L324.0 311.4L327.9 310.4L332.6 309.3L336.5 303.1L340.4 296.1L342.8 288.2L344.6 282.0M354.0 282.0L354.5 290.6L356.8 285.9L359.2 282.0M442.8 282.0L441.5 288.2L442.4 297.6L443.5 305.4L447.4 307.3L452.1 307.0L456.8 304.7L462.3 302.3L465.4 305.4L469.3 310.1L472.4 314.8L474.8 316.7L478.7 317.6L482.6 314.8L485.7 310.9L487.3 305.4L488.4 299.2L489.3 292.9L487.3 286.7L485.7 282.0M479.5 322.3L482.6 324.5L480.6 326.5L479.5 322.3M514.3 308.2L516.2 311.7L518.5 317.2L519.6 319.5L517.4 315.6L515.4 311.7L514.3 308.2M513.8 321.8L514.6 326.5L512.3 329.7L509.6 332.8L508.4 333.6L510.7 328.9L513.1 325.0L513.8 321.8M77.1 399.5L86.5 399.5L96.7 399.5L99.0 402.3M96.7 399.5L99.0 398.4L102.9 398.4M77.1 412.5L86.5 412.5L88.8 413.6L105.2 413.6L106.8 414.5L115.4 414.5L113.1 410.9L110.7 407.0L108.7 403.1L110.2 398.4L113.8 396.1L119.3 394.5L125.6 393.7L131.8 392.6L136.5 391.1L141.2 389.8L149.0 389.8L152.1 390.6L156.0 390.1L160.7 393.2L166.2 392.2L170.9 391.1L174.0 390.6M174.0 390.6L175.6 389.0L183.4 389.0L192.8 389.0L197.4 387.9L202.1 387.5L206.8 388.2L209.9 389.0L213.1 386.7L214.9 383.6L215.9 378.9L217.0 375.0L220.1 371.8L224.8 369.5L226.3 371.8L224.8 377.3L223.7 382.0L222.8 385.9L223.7 390.6L224.0 392.9M215.9 378.9L219.3 375.8L223.7 372.6L224.3 375.8L220.9 379.7L217.8 378.9L215.9 378.9M220.9 379.7L222.4 382.8L223.7 385.9M206.0 385.1L210.7 382.0L213.1 380.4L212.3 384.3L209.9 386.7L206.8 385.9L206.0 385.1M224.0 392.9L216.2 394.5L205.2 396.1L196.7 397.6L200.6 400.8L206.0 403.9L214.6 405.4L225.6 407.3L238.1 407.3L249.0 405.4L256.8 403.6L259.9 403.1L258.4 400.8L257.6 397.9L252.1 398.4L244.3 398.9L239.6 397.9L233.4 396.1L227.1 394.2L224.0 392.9M220.1 403.6L227.1 402.3L233.4 400.4L239.6 397.9M227.1 402.3L236.5 403.6L244.3 403.9L245.1 400.8L239.6 397.9M257.6 397.9L261.5 395.8L266.2 393.7L270.9 391.4L274.0 389.5M258.4 398.9L262.3 396.7L267.0 394.7L271.7 392.3L274.0 391.1M274.0 389.5L280.2 386.7L288.1 383.6L294.3 381.2L298.2 380.1L301.3 381.7L305.2 382.5L324.0 382.5L331.8 382.5L335.7 381.2L340.4 380.4L343.5 381.2L347.4 382.3L351.3 378.9L356.0 376.5L361.5 375.8L365.4 374.2L369.3 375.8L374.0 376.5M274.0 391.4L280.2 388.2L288.1 385.1L294.3 385.1L297.4 386.4L301.3 384.8L305.2 383.6L324.0 383.6L327.9 384.8L331.8 384.3L335.7 382.0M374.0 376.5L380.2 377.6L384.9 378.6L386.2 382.8L389.6 381.7L394.3 381.2L399.0 378.9L402.9 376.1L406.8 375.4L414.6 375.4L420.9 374.5L428.7 374.2L439.6 374.2L442.8 375.8L446.7 376.5L450.6 375.0L455.2 374.2L464.6 374.2L469.3 375.4L474.0 375.4M384.9 378.6L388.1 380.4L389.6 381.7M479.0 377.8L482.1 378.1L489.9 380.1L499.3 381.7L505.6 383.9L511.5 386.4L507.9 390.6L504.8 394.5L503.7 397.9L508.7 397.3L514.9 397.9L522.8 399.5M503.7 397.9L501.7 400.8L504.0 404.7L506.3 407.8L511.8 409.3L517.3 410.4M83.5 265.5L85.0 266.0" fill="none" stroke="#1c8cff" stroke-width="1" stroke-linejoin="round" shape-rendering="crispEdges"/></g>
<rect x="74.5" y="57.5" width="450" height="361" fill="none" stroke="#000" shape-rendering="crispEdges"/>
<rect x="535.5" y="57.5" width="22" height="361" fill="url(#cb)" stroke="#000" shape-rendering="crispEdges"/>
<g shape-rendering="crispEdges"><path d="M535.5 360.5h5M557.5 360.5h-5" stroke="#000" fill="none"/><path d="M535.5 296.5h5M557.5 296.5h-5" stroke="#000" fill="none"/><path d="M535.5 232.5h5M557.5 232.5h-5" stroke="#000" fill="none"/><path d="M535.5 167.5h5M557.5 167.5h-5" stroke="#000" fill="none"/><path d="M535.5 103.5h5M557.5 103.5h-5" stroke="#000" fill="none"/></g>
</svg>
</body></html>
